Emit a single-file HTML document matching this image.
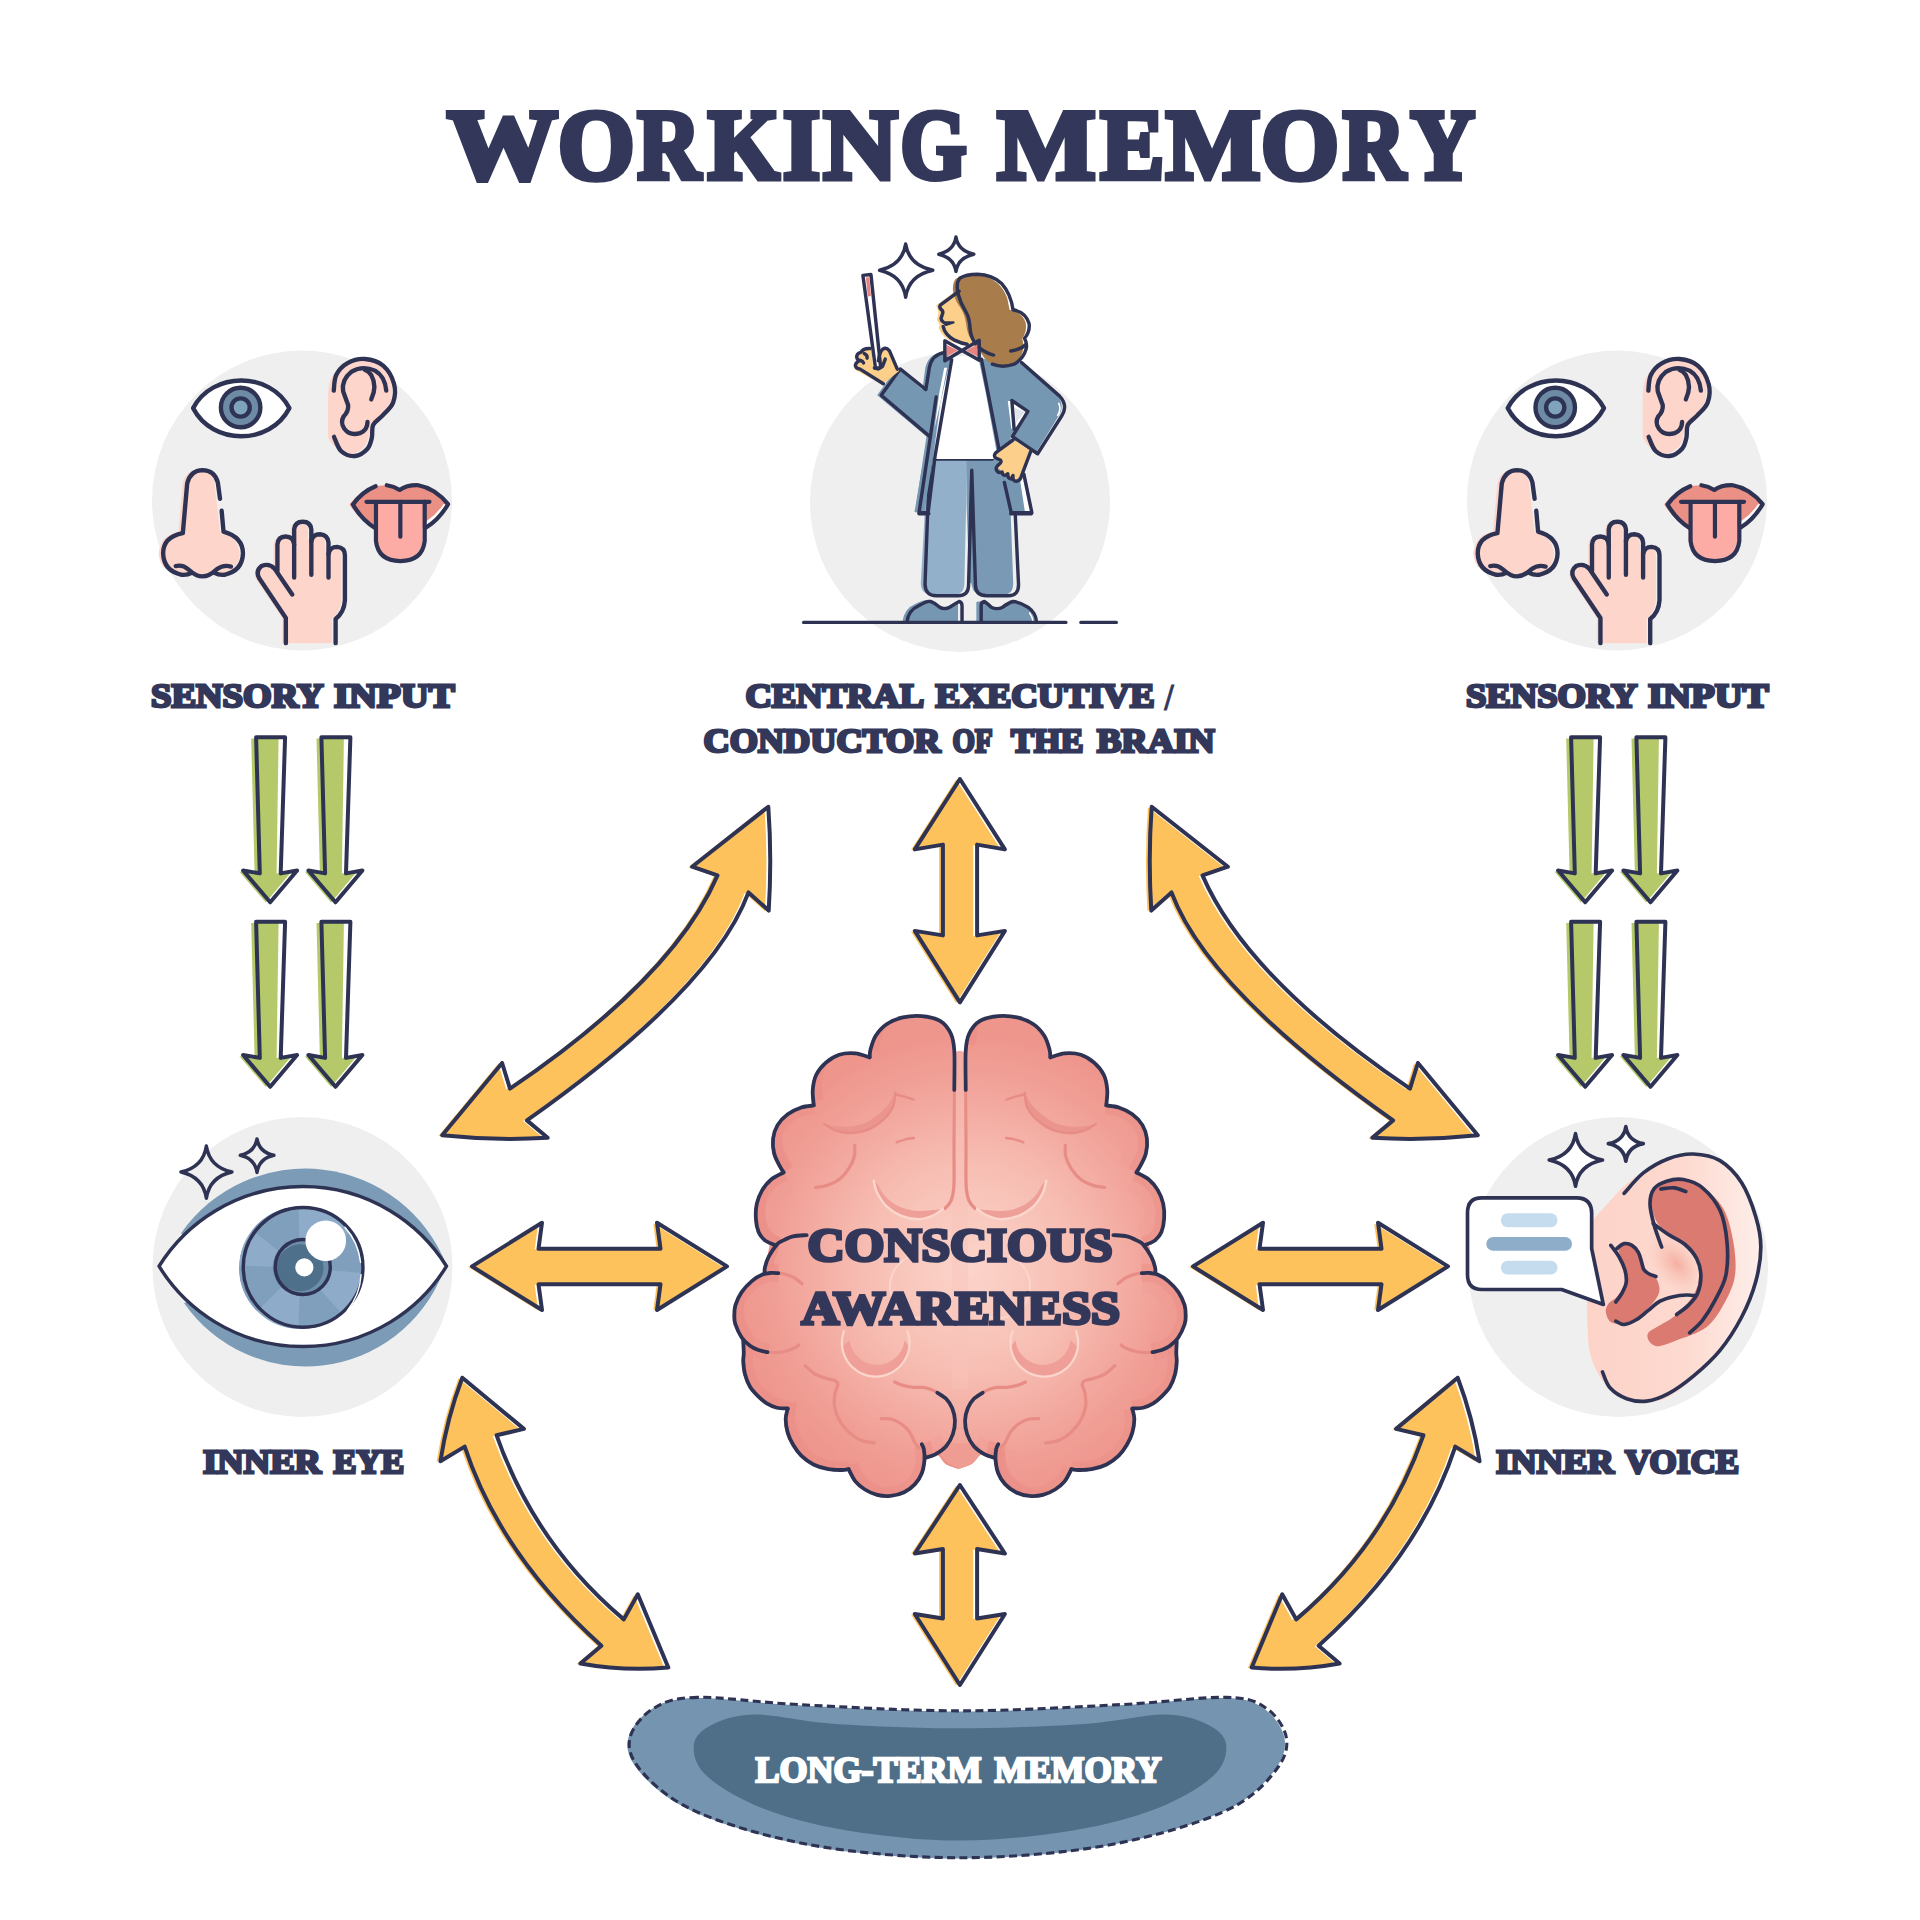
<!DOCTYPE html>
<html><head><meta charset="utf-8"><title>Working Memory</title>
<style>
html,body{margin:0;padding:0;background:#fff;}
body{width:1920px;height:1920px;overflow:hidden;font-family:"Liberation Serif",serif;}
svg{display:block}
text{font-family:"Liberation Serif",serif;font-weight:700;}
.o{fill:none;stroke:#2e3354;stroke-width:4;stroke-linecap:round;stroke-linejoin:round}
.os{fill:none;stroke:#2e3354;stroke-width:3.4;stroke-linecap:round;stroke-linejoin:round}
.or{fill:#fcc259}
.gr{fill:#b6ca6c}
</style></head><body>
<svg width="1920" height="1920" viewBox="0 0 1920 1920">
<rect width="1920" height="1920" fill="#ffffff"/>
<!-- grey circles -->
<circle cx="302" cy="500.5" r="150" fill="#efefef"/>
<circle cx="960" cy="502" r="150" fill="#efefef"/>
<circle cx="1617" cy="500.5" r="150" fill="#efefef"/>
<circle cx="302.5" cy="1267" r="150" fill="#efefef"/>
<circle cx="1618" cy="1267" r="150" fill="#efefef"/>
<g fill="#33375a" stroke="#33375a" stroke-linejoin="miter" stroke-miterlimit="3" stroke-width="6" font-size="100.3">
<text x="447.50" y="178.4" textLength="109.92" lengthAdjust="spacingAndGlyphs">W</text>
<text x="558.00" y="178.4" textLength="76.59" lengthAdjust="spacingAndGlyphs">O</text>
<text x="637.50" y="178.4" textLength="62.93" lengthAdjust="spacingAndGlyphs">R</text>
<text x="708.00" y="178.4" textLength="71.31" lengthAdjust="spacingAndGlyphs">K</text>
<text x="783.00" y="178.4" textLength="37.12" lengthAdjust="spacingAndGlyphs">I</text>
<text x="823.50" y="178.4" textLength="73.85" lengthAdjust="spacingAndGlyphs">N</text>
<text x="900.50" y="178.4" textLength="65.96" lengthAdjust="spacingAndGlyphs">G</text>
<text x="997.50" y="178.4" textLength="97.95" lengthAdjust="spacingAndGlyphs">M</text>
<text x="1100.50" y="178.4" textLength="63.74" lengthAdjust="spacingAndGlyphs">E</text>
<text x="1166.00" y="178.4" textLength="94.33" lengthAdjust="spacingAndGlyphs">M</text>
<text x="1261.00" y="178.4" textLength="77.91" lengthAdjust="spacingAndGlyphs">O</text>
<text x="1343.00" y="178.4" textLength="62.26" lengthAdjust="spacingAndGlyphs">R</text>
<text x="1410.50" y="178.4" textLength="64.28" lengthAdjust="spacingAndGlyphs">Y</text>
</g>
<path d="M472,1266.4 L542,1222.8 L538.5,1248.7 L660.5,1248.7 L657,1222.8 L727,1266.4 L657,1310 L660.5,1284.2 L538.5,1284.2 L542,1310 Z" fill="#fdc25b" transform="translate(-3.8,0.6)"/>
<path d="M472,1266.4 L542,1222.8 L538.5,1248.7 L660.5,1248.7 L657,1222.8 L727,1266.4 L657,1310 L660.5,1284.2 L538.5,1284.2 L542,1310 Z" class="o" style="stroke-width:4"/>
<path d="M472,1266.4 L542,1222.8 L538.5,1248.7 L660.5,1248.7 L657,1222.8 L727,1266.4 L657,1310 L660.5,1284.2 L538.5,1284.2 L542,1310 Z" fill="#fdc25b" transform="translate(-3.8,0.6) translate(1920,0) scale(-1,1)"/>
<path d="M472,1266.4 L542,1222.8 L538.5,1248.7 L660.5,1248.7 L657,1222.8 L727,1266.4 L657,1310 L660.5,1284.2 L538.5,1284.2 L542,1310 Z" class="o" transform="translate(1920,0) scale(-1,1)" style="stroke-width:4"/>
<path d="M959.9,779 L1004.9,849.4 L977.1,844.6 L977.1,935.4 L1004.9,930.9 L959.9,1002.4 L914.8,930.9 L942.9,935.4 L942.9,844.6 L914.8,849.4 Z" fill="#fdc25b" transform="translate(-3.8,0.6)"/>
<path d="M959.9,779 L1004.9,849.4 L977.1,844.6 L977.1,935.4 L1004.9,930.9 L959.9,1002.4 L914.8,930.9 L942.9,935.4 L942.9,844.6 L914.8,849.4 Z" class="o" style="stroke-width:4"/>
<path d="M959.9,1485 L1004.9,1553.5 L977.1,1549 L977.1,1618.5 L1004.9,1614 L959.9,1685 L914.8,1614 L942.9,1618.5 L942.9,1549 L914.8,1553.5 Z" fill="#fdc25b" transform="translate(-3.8,0.6)"/>
<path d="M959.9,1485 L1004.9,1553.5 L977.1,1549 L977.1,1618.5 L1004.9,1614 L959.9,1685 L914.8,1614 L942.9,1618.5 L942.9,1549 L914.8,1553.5 Z" class="o" style="stroke-width:4"/>
<path d="M768.3,806.7 L692.1,866.7 L717.5,875.4 Q673.2,978 510,1088.7 L502.1,1063 L442.2,1135.3 Q495,1141 547.7,1137.8 L526.9,1120.4 Q712.9,989.3 748.5,892.4 L768.7,910.6 Q772,858 768.3,806.7 Z" fill="#fdc25b" transform="translate(-3.8,0.6)"/>
<path d="M768.3,806.7 L692.1,866.7 L717.5,875.4 Q673.2,978 510,1088.7 L502.1,1063 L442.2,1135.3 Q495,1141 547.7,1137.8 L526.9,1120.4 Q712.9,989.3 748.5,892.4 L768.7,910.6 Q772,858 768.3,806.7 Z" class="o" style="stroke-width:4"/>
<path d="M768.3,806.7 L692.1,866.7 L717.5,875.4 Q673.2,978 510,1088.7 L502.1,1063 L442.2,1135.3 Q495,1141 547.7,1137.8 L526.9,1120.4 Q712.9,989.3 748.5,892.4 L768.7,910.6 Q772,858 768.3,806.7 Z" fill="#fdc25b" transform="translate(-3.8,0.6) translate(1920,0) scale(-1,1)"/>
<path d="M768.3,806.7 L692.1,866.7 L717.5,875.4 Q673.2,978 510,1088.7 L502.1,1063 L442.2,1135.3 Q495,1141 547.7,1137.8 L526.9,1120.4 Q712.9,989.3 748.5,892.4 L768.7,910.6 Q772,858 768.3,806.7 Z" class="o" transform="translate(1920,0) scale(-1,1)" style="stroke-width:4"/>
<path d="M462.3,1377.7 L523.9,1428.9 L496.6,1435.3 Q535,1544.5 623.8,1619.4 L637.8,1594.3 L668.3,1667.5 Q624,1671.5 580.4,1663.5 L601.4,1645.7 Q500.2,1554.9 464.7,1446.6 L440.4,1461.2 Q447,1418 462.3,1377.7 Z" fill="#fdc25b" transform="translate(-3.8,0.6)"/>
<path d="M462.3,1377.7 L523.9,1428.9 L496.6,1435.3 Q535,1544.5 623.8,1619.4 L637.8,1594.3 L668.3,1667.5 Q624,1671.5 580.4,1663.5 L601.4,1645.7 Q500.2,1554.9 464.7,1446.6 L440.4,1461.2 Q447,1418 462.3,1377.7 Z" class="o" style="stroke-width:4"/>
<path d="M462.3,1377.7 L523.9,1428.9 L496.6,1435.3 Q535,1544.5 623.8,1619.4 L637.8,1594.3 L668.3,1667.5 Q624,1671.5 580.4,1663.5 L601.4,1645.7 Q500.2,1554.9 464.7,1446.6 L440.4,1461.2 Q447,1418 462.3,1377.7 Z" fill="#fdc25b" transform="translate(-3.8,0.6) translate(1920,0) scale(-1,1)"/>
<path d="M462.3,1377.7 L523.9,1428.9 L496.6,1435.3 Q535,1544.5 623.8,1619.4 L637.8,1594.3 L668.3,1667.5 Q624,1671.5 580.4,1663.5 L601.4,1645.7 Q500.2,1554.9 464.7,1446.6 L440.4,1461.2 Q447,1418 462.3,1377.7 Z" class="o" transform="translate(1920,0) scale(-1,1)" style="stroke-width:4"/>
<path d="M251.2,738.6 L278.6,738.6 L276.6,873.5 L291.9,871.2 L265.8,902.6 L239.3,871.6 L254.6,874.6 Z" fill="#b5c96b"/>
<path d="M256.1,737.2 L285.1,737.2 L280.7,873.4 L297.1,870.5 L270.2,902.3 L243.1,870.5 L259.8,873.4 Z" class="o"/>
<path d="M251.2,923.1 L278.6,923.1 L276.6,1058.0 L291.9,1055.7 L265.8,1087.1 L239.3,1056.1 L254.6,1059.1 Z" fill="#b5c96b"/>
<path d="M256.1,921.7 L285.1,921.7 L280.7,1057.9 L297.1,1055.0 L270.2,1086.8 L243.1,1055.0 L259.8,1057.9 Z" class="o"/>
<path d="M316.5,738.6 L343.9,738.6 L341.9,873.5 L357.2,871.2 L331.1,902.6 L304.6,871.6 L319.9,874.6 Z" fill="#b5c96b"/>
<path d="M321.4,737.2 L350.4,737.2 L346.0,873.4 L362.4,870.5 L335.5,902.3 L308.4,870.5 L325.1,873.4 Z" class="o"/>
<path d="M316.5,923.1 L343.9,923.1 L341.9,1058.0 L357.2,1055.7 L331.1,1087.1 L304.6,1056.1 L319.9,1059.1 Z" fill="#b5c96b"/>
<path d="M321.4,921.7 L350.4,921.7 L346.0,1057.9 L362.4,1055.0 L335.5,1086.8 L308.4,1055.0 L325.1,1057.9 Z" class="o"/>
<path d="M1566.2,738.6 L1593.6,738.6 L1591.6,873.5 L1606.9,871.2 L1580.8,902.6 L1554.3,871.6 L1569.6,874.6 Z" fill="#b5c96b"/>
<path d="M1571.1,737.2 L1600.1,737.2 L1595.7,873.4 L1612.1,870.5 L1585.2,902.3 L1558.1,870.5 L1574.8,873.4 Z" class="o"/>
<path d="M1566.2,923.1 L1593.6,923.1 L1591.6,1058.0 L1606.9,1055.7 L1580.8,1087.1 L1554.3,1056.1 L1569.6,1059.1 Z" fill="#b5c96b"/>
<path d="M1571.1,921.7 L1600.1,921.7 L1595.7,1057.9 L1612.1,1055.0 L1585.2,1086.8 L1558.1,1055.0 L1574.8,1057.9 Z" class="o"/>
<path d="M1631.5,738.6 L1658.9,738.6 L1656.9,873.5 L1672.2,871.2 L1646.1,902.6 L1619.6,871.6 L1634.9,874.6 Z" fill="#b5c96b"/>
<path d="M1636.4,737.2 L1665.4,737.2 L1661.0,873.4 L1677.4,870.5 L1650.5,902.3 L1623.4,870.5 L1640.1,873.4 Z" class="o"/>
<path d="M1631.5,923.1 L1658.9,923.1 L1656.9,1058.0 L1672.2,1055.7 L1646.1,1087.1 L1619.6,1056.1 L1634.9,1059.1 Z" fill="#b5c96b"/>
<path d="M1636.4,921.7 L1665.4,921.7 L1661.0,1057.9 L1677.4,1055.0 L1650.5,1086.8 L1623.4,1055.0 L1640.1,1057.9 Z" class="o"/>
<!-- ===== Brain ===== -->
<defs>
<radialGradient id="brG" gradientUnits="userSpaceOnUse" cx="1772" cy="1950" r="1750">
<stop offset="0" stop-color="#fcd5cb"/><stop offset="0.45" stop-color="#f7bdb2"/><stop offset="0.8" stop-color="#f1a198"/><stop offset="1" stop-color="#ee958c"/>
</radialGradient>
<clipPath id="brC"><path d="M1772.4,300.0 C1765.3,300.0 1741.2,320.8 1730.0,300.0 C1718.8,279.2 1722.5,211.7 1705.0,175.0 C1687.5,138.3 1660.8,101.7 1625.0,80.0 C1589.2,58.3 1535.8,49.2 1490.0,45.0 C1444.2,40.8 1393.3,45.0 1350.0,55.0 C1306.7,65.0 1263.3,82.5 1230.0,105.0 C1196.7,127.5 1169.7,159.2 1150.0,190.0 C1130.3,220.8 1119.5,263.3 1112.0,290.0 C1104.5,316.7 1106.2,340.0 1105.0,350.0 L1105.0,350.0 C1087.5,345.0 1037.5,323.3 1000.0,320.0 C962.5,316.7 916.7,318.3 880.0,330.0 C843.3,341.7 808.3,365.0 780.0,390.0 C751.7,415.0 725.8,446.7 710.0,480.0 C694.2,513.3 688.0,553.3 685.0,590.0 C682.0,626.7 690.8,681.7 692.0,700.0 L692.0,705.0 C676.7,707.5 632.0,709.2 600.0,720.0 C568.0,730.8 529.2,748.3 500.0,770.0 C470.8,791.7 443.0,820.0 425.0,850.0 C407.0,880.0 396.2,915.0 392.0,950.0 C387.8,985.0 392.0,1026.7 400.0,1060.0 C408.0,1093.3 428.3,1126.7 440.0,1150.0 C451.7,1173.3 465.0,1191.7 470.0,1200.0 L468.0,1200.0 C453.3,1208.3 406.0,1228.3 380.0,1250.0 C354.0,1271.7 330.0,1300.0 312.0,1330.0 C294.0,1360.0 279.8,1395.0 272.0,1430.0 C264.2,1465.0 262.8,1505.0 265.0,1540.0 C267.2,1575.0 274.2,1613.3 285.0,1640.0 C295.8,1666.7 314.2,1685.8 330.0,1700.0 C345.8,1714.2 371.7,1720.8 380.0,1725.0 L360.0,1822.0 C355.4,1834.8 337.4,1878.8 332.3,1898.7 C327.2,1918.6 329.9,1934.4 329.4,1941.6 L375.0,1941.6 C364.8,1943.7 337.0,1944.3 314.0,1954.0 C291.0,1963.7 262.7,1978.5 237.0,2000.0 C211.3,2021.5 180.5,2053.2 160.0,2083.0 C139.5,2112.8 123.0,2149.5 114.0,2179.0 C105.0,2208.5 106.0,2236.4 106.0,2260.0 C106.0,2283.6 104.7,2294.1 113.7,2320.6 C122.8,2347.1 152.5,2402.4 160.3,2418.8 L172.0,2443.0 C172.6,2458.3 175.4,2509.3 175.4,2535.0 C175.4,2560.7 170.5,2571.2 172.0,2597.0 C173.5,2622.8 176.3,2659.2 184.6,2690.0 C192.9,2720.8 205.2,2754.8 221.6,2782.0 C238.0,2809.2 262.2,2832.5 282.8,2853.0 C303.4,2873.5 322.1,2891.0 345.0,2905.0 C367.9,2919.0 394.2,2930.7 420.0,2937.0 C445.8,2943.3 486.7,2942.0 500.0,2943.0 L500.0,2943.0 C497.5,2956.0 485.0,2991.3 485.0,3021.0 C485.0,3050.7 490.8,3089.3 500.0,3121.0 C509.2,3152.7 523.3,3182.7 540.0,3211.0 C556.7,3239.3 575.0,3266.8 600.0,3291.0 C625.0,3315.2 656.7,3339.3 690.0,3356.0 C723.3,3372.7 765.0,3384.2 800.0,3391.0 C835.0,3397.8 875.0,3397.0 900.0,3397.0 C925.0,3397.0 941.7,3392.0 950.0,3391.0 L950.0,3391.0 C958.3,3406.0 980.0,3456.0 1000.0,3481.0 C1020.0,3506.0 1043.3,3524.3 1070.0,3541.0 C1096.7,3557.7 1128.3,3573.2 1160.0,3581.0 C1191.7,3588.8 1226.7,3591.3 1260.0,3588.0 C1293.3,3584.7 1330.0,3575.5 1360.0,3561.0 C1390.0,3546.5 1418.3,3524.3 1440.0,3501.0 C1461.7,3477.7 1478.3,3451.0 1490.0,3421.0 C1501.7,3391.0 1506.7,3337.7 1510.0,3321.0 L1515.0,3300.0 C1527.5,3296.8 1570.8,3282.5 1590.0,3281.0 C1609.2,3279.5 1615.0,3279.5 1630.0,3291.0 C1645.0,3302.5 1656.3,3334.3 1680.0,3350.0 C1703.7,3365.7 1757.0,3379.2 1772.4,3385.0 L1772.4,3385.0 C1787.8,3379.2 1841.1,3365.7 1864.8,3350.0 C1888.5,3334.3 1899.8,3302.5 1914.8,3291.0 C1929.8,3279.5 1935.6,3279.5 1954.8,3281.0 C1974.0,3282.5 2017.3,3296.8 2029.8,3300.0 L2034.8,3321.0 C2038.1,3337.7 2043.1,3391.0 2054.8,3421.0 C2066.5,3451.0 2083.1,3477.7 2104.8,3501.0 C2126.5,3524.3 2154.8,3546.5 2184.8,3561.0 C2214.8,3575.5 2251.5,3584.7 2284.8,3588.0 C2318.1,3591.3 2353.1,3588.8 2384.8,3581.0 C2416.5,3573.2 2448.1,3557.7 2474.8,3541.0 C2501.5,3524.3 2524.8,3506.0 2544.8,3481.0 C2564.8,3456.0 2586.5,3406.0 2594.8,3391.0 L2594.8,3391.0 C2603.1,3392.0 2619.8,3397.0 2644.8,3397.0 C2669.8,3397.0 2709.8,3397.8 2744.8,3391.0 C2779.8,3384.2 2821.5,3372.7 2854.8,3356.0 C2888.1,3339.3 2919.8,3315.2 2944.8,3291.0 C2969.8,3266.8 2988.1,3239.3 3004.8,3211.0 C3021.5,3182.7 3035.6,3152.7 3044.8,3121.0 C3054.0,3089.3 3059.8,3050.7 3059.8,3021.0 C3059.8,2991.3 3047.3,2956.0 3044.8,2943.0 L3044.8,2943.0 C3058.1,2942.0 3099.0,2943.3 3124.8,2937.0 C3150.6,2930.7 3176.9,2919.0 3199.8,2905.0 C3222.7,2891.0 3241.4,2873.5 3262.0,2853.0 C3282.6,2832.5 3306.8,2809.2 3323.2,2782.0 C3339.6,2754.8 3351.9,2720.8 3360.2,2690.0 C3368.5,2659.2 3371.3,2622.8 3372.8,2597.0 C3374.3,2571.2 3369.4,2560.7 3369.4,2535.0 C3369.4,2509.3 3372.2,2458.3 3372.8,2443.0 L3384.5,2418.8 C3392.3,2402.4 3422.1,2347.1 3431.1,2320.6 C3440.2,2294.1 3438.9,2283.6 3438.8,2260.0 C3438.8,2236.4 3439.8,2208.5 3430.8,2179.0 C3421.8,2149.5 3405.3,2112.8 3384.8,2083.0 C3364.3,2053.2 3333.5,2021.5 3307.8,2000.0 C3282.1,1978.5 3253.8,1963.7 3230.8,1954.0 C3207.8,1944.3 3180.0,1943.7 3169.8,1941.6 L3215.4,1941.6 C3214.9,1934.4 3217.6,1918.6 3212.5,1898.7 C3207.4,1878.8 3189.4,1834.8 3184.8,1822.0 L3164.8,1725.0 C3173.1,1720.8 3199.0,1714.2 3214.8,1700.0 C3230.6,1685.8 3249.0,1666.7 3259.8,1640.0 C3270.6,1613.3 3277.6,1575.0 3279.8,1540.0 C3282.0,1505.0 3280.6,1465.0 3272.8,1430.0 C3265.0,1395.0 3250.8,1360.0 3232.8,1330.0 C3214.8,1300.0 3190.8,1271.7 3164.8,1250.0 C3138.8,1228.3 3091.5,1208.3 3076.8,1200.0 L3074.8,1200.0 C3079.8,1191.7 3093.1,1173.3 3104.8,1150.0 C3116.5,1126.7 3136.8,1093.3 3144.8,1060.0 C3152.8,1026.7 3157.0,985.0 3152.8,950.0 C3148.6,915.0 3137.8,880.0 3119.8,850.0 C3101.8,820.0 3074.0,791.7 3044.8,770.0 C3015.6,748.3 2976.8,730.8 2944.8,720.0 C2912.8,709.2 2868.1,707.5 2852.8,705.0 L2852.8,700.0 C2854.0,681.7 2862.8,626.7 2859.8,590.0 C2856.8,553.3 2850.6,513.3 2834.8,480.0 C2819.0,446.7 2793.1,415.0 2764.8,390.0 C2736.5,365.0 2701.5,341.7 2664.8,330.0 C2628.1,318.3 2582.3,316.7 2544.8,320.0 C2507.3,323.3 2457.3,345.0 2439.8,350.0 L2439.8,350.0 C2438.6,340.0 2440.3,316.7 2432.8,290.0 C2425.3,263.3 2414.5,220.8 2394.8,190.0 C2375.1,159.2 2348.1,127.5 2314.8,105.0 C2281.5,82.5 2238.1,65.0 2194.8,55.0 C2151.5,45.0 2100.6,40.8 2054.8,45.0 C2009.0,49.2 1955.6,58.3 1919.8,80.0 C1884.0,101.7 1857.3,138.3 1839.8,175.0 C1822.3,211.7 1826.0,279.2 1814.8,300.0 C1803.6,320.8 1779.5,300.0 1772.4,300.0 Z"/></clipPath>
</defs>
<g transform="translate(720,1010) scale(0.1354167)" stroke-linecap="round" stroke-linejoin="round">
<path d="M1772.4,300.0 C1765.3,300.0 1741.2,320.8 1730.0,300.0 C1718.8,279.2 1722.5,211.7 1705.0,175.0 C1687.5,138.3 1660.8,101.7 1625.0,80.0 C1589.2,58.3 1535.8,49.2 1490.0,45.0 C1444.2,40.8 1393.3,45.0 1350.0,55.0 C1306.7,65.0 1263.3,82.5 1230.0,105.0 C1196.7,127.5 1169.7,159.2 1150.0,190.0 C1130.3,220.8 1119.5,263.3 1112.0,290.0 C1104.5,316.7 1106.2,340.0 1105.0,350.0 L1105.0,350.0 C1087.5,345.0 1037.5,323.3 1000.0,320.0 C962.5,316.7 916.7,318.3 880.0,330.0 C843.3,341.7 808.3,365.0 780.0,390.0 C751.7,415.0 725.8,446.7 710.0,480.0 C694.2,513.3 688.0,553.3 685.0,590.0 C682.0,626.7 690.8,681.7 692.0,700.0 L692.0,705.0 C676.7,707.5 632.0,709.2 600.0,720.0 C568.0,730.8 529.2,748.3 500.0,770.0 C470.8,791.7 443.0,820.0 425.0,850.0 C407.0,880.0 396.2,915.0 392.0,950.0 C387.8,985.0 392.0,1026.7 400.0,1060.0 C408.0,1093.3 428.3,1126.7 440.0,1150.0 C451.7,1173.3 465.0,1191.7 470.0,1200.0 L468.0,1200.0 C453.3,1208.3 406.0,1228.3 380.0,1250.0 C354.0,1271.7 330.0,1300.0 312.0,1330.0 C294.0,1360.0 279.8,1395.0 272.0,1430.0 C264.2,1465.0 262.8,1505.0 265.0,1540.0 C267.2,1575.0 274.2,1613.3 285.0,1640.0 C295.8,1666.7 314.2,1685.8 330.0,1700.0 C345.8,1714.2 371.7,1720.8 380.0,1725.0 L360.0,1822.0 C355.4,1834.8 337.4,1878.8 332.3,1898.7 C327.2,1918.6 329.9,1934.4 329.4,1941.6 L375.0,1941.6 C364.8,1943.7 337.0,1944.3 314.0,1954.0 C291.0,1963.7 262.7,1978.5 237.0,2000.0 C211.3,2021.5 180.5,2053.2 160.0,2083.0 C139.5,2112.8 123.0,2149.5 114.0,2179.0 C105.0,2208.5 106.0,2236.4 106.0,2260.0 C106.0,2283.6 104.7,2294.1 113.7,2320.6 C122.8,2347.1 152.5,2402.4 160.3,2418.8 L172.0,2443.0 C172.6,2458.3 175.4,2509.3 175.4,2535.0 C175.4,2560.7 170.5,2571.2 172.0,2597.0 C173.5,2622.8 176.3,2659.2 184.6,2690.0 C192.9,2720.8 205.2,2754.8 221.6,2782.0 C238.0,2809.2 262.2,2832.5 282.8,2853.0 C303.4,2873.5 322.1,2891.0 345.0,2905.0 C367.9,2919.0 394.2,2930.7 420.0,2937.0 C445.8,2943.3 486.7,2942.0 500.0,2943.0 L500.0,2943.0 C497.5,2956.0 485.0,2991.3 485.0,3021.0 C485.0,3050.7 490.8,3089.3 500.0,3121.0 C509.2,3152.7 523.3,3182.7 540.0,3211.0 C556.7,3239.3 575.0,3266.8 600.0,3291.0 C625.0,3315.2 656.7,3339.3 690.0,3356.0 C723.3,3372.7 765.0,3384.2 800.0,3391.0 C835.0,3397.8 875.0,3397.0 900.0,3397.0 C925.0,3397.0 941.7,3392.0 950.0,3391.0 L950.0,3391.0 C958.3,3406.0 980.0,3456.0 1000.0,3481.0 C1020.0,3506.0 1043.3,3524.3 1070.0,3541.0 C1096.7,3557.7 1128.3,3573.2 1160.0,3581.0 C1191.7,3588.8 1226.7,3591.3 1260.0,3588.0 C1293.3,3584.7 1330.0,3575.5 1360.0,3561.0 C1390.0,3546.5 1418.3,3524.3 1440.0,3501.0 C1461.7,3477.7 1478.3,3451.0 1490.0,3421.0 C1501.7,3391.0 1506.7,3337.7 1510.0,3321.0 L1515.0,3300.0 C1527.5,3296.8 1570.8,3282.5 1590.0,3281.0 C1609.2,3279.5 1615.0,3279.5 1630.0,3291.0 C1645.0,3302.5 1656.3,3334.3 1680.0,3350.0 C1703.7,3365.7 1757.0,3379.2 1772.4,3385.0 L1772.4,3385.0 C1787.8,3379.2 1841.1,3365.7 1864.8,3350.0 C1888.5,3334.3 1899.8,3302.5 1914.8,3291.0 C1929.8,3279.5 1935.6,3279.5 1954.8,3281.0 C1974.0,3282.5 2017.3,3296.8 2029.8,3300.0 L2034.8,3321.0 C2038.1,3337.7 2043.1,3391.0 2054.8,3421.0 C2066.5,3451.0 2083.1,3477.7 2104.8,3501.0 C2126.5,3524.3 2154.8,3546.5 2184.8,3561.0 C2214.8,3575.5 2251.5,3584.7 2284.8,3588.0 C2318.1,3591.3 2353.1,3588.8 2384.8,3581.0 C2416.5,3573.2 2448.1,3557.7 2474.8,3541.0 C2501.5,3524.3 2524.8,3506.0 2544.8,3481.0 C2564.8,3456.0 2586.5,3406.0 2594.8,3391.0 L2594.8,3391.0 C2603.1,3392.0 2619.8,3397.0 2644.8,3397.0 C2669.8,3397.0 2709.8,3397.8 2744.8,3391.0 C2779.8,3384.2 2821.5,3372.7 2854.8,3356.0 C2888.1,3339.3 2919.8,3315.2 2944.8,3291.0 C2969.8,3266.8 2988.1,3239.3 3004.8,3211.0 C3021.5,3182.7 3035.6,3152.7 3044.8,3121.0 C3054.0,3089.3 3059.8,3050.7 3059.8,3021.0 C3059.8,2991.3 3047.3,2956.0 3044.8,2943.0 L3044.8,2943.0 C3058.1,2942.0 3099.0,2943.3 3124.8,2937.0 C3150.6,2930.7 3176.9,2919.0 3199.8,2905.0 C3222.7,2891.0 3241.4,2873.5 3262.0,2853.0 C3282.6,2832.5 3306.8,2809.2 3323.2,2782.0 C3339.6,2754.8 3351.9,2720.8 3360.2,2690.0 C3368.5,2659.2 3371.3,2622.8 3372.8,2597.0 C3374.3,2571.2 3369.4,2560.7 3369.4,2535.0 C3369.4,2509.3 3372.2,2458.3 3372.8,2443.0 L3384.5,2418.8 C3392.3,2402.4 3422.1,2347.1 3431.1,2320.6 C3440.2,2294.1 3438.9,2283.6 3438.8,2260.0 C3438.8,2236.4 3439.8,2208.5 3430.8,2179.0 C3421.8,2149.5 3405.3,2112.8 3384.8,2083.0 C3364.3,2053.2 3333.5,2021.5 3307.8,2000.0 C3282.1,1978.5 3253.8,1963.7 3230.8,1954.0 C3207.8,1944.3 3180.0,1943.7 3169.8,1941.6 L3215.4,1941.6 C3214.9,1934.4 3217.6,1918.6 3212.5,1898.7 C3207.4,1878.8 3189.4,1834.8 3184.8,1822.0 L3164.8,1725.0 C3173.1,1720.8 3199.0,1714.2 3214.8,1700.0 C3230.6,1685.8 3249.0,1666.7 3259.8,1640.0 C3270.6,1613.3 3277.6,1575.0 3279.8,1540.0 C3282.0,1505.0 3280.6,1465.0 3272.8,1430.0 C3265.0,1395.0 3250.8,1360.0 3232.8,1330.0 C3214.8,1300.0 3190.8,1271.7 3164.8,1250.0 C3138.8,1228.3 3091.5,1208.3 3076.8,1200.0 L3074.8,1200.0 C3079.8,1191.7 3093.1,1173.3 3104.8,1150.0 C3116.5,1126.7 3136.8,1093.3 3144.8,1060.0 C3152.8,1026.7 3157.0,985.0 3152.8,950.0 C3148.6,915.0 3137.8,880.0 3119.8,850.0 C3101.8,820.0 3074.0,791.7 3044.8,770.0 C3015.6,748.3 2976.8,730.8 2944.8,720.0 C2912.8,709.2 2868.1,707.5 2852.8,705.0 L2852.8,700.0 C2854.0,681.7 2862.8,626.7 2859.8,590.0 C2856.8,553.3 2850.6,513.3 2834.8,480.0 C2819.0,446.7 2793.1,415.0 2764.8,390.0 C2736.5,365.0 2701.5,341.7 2664.8,330.0 C2628.1,318.3 2582.3,316.7 2544.8,320.0 C2507.3,323.3 2457.3,345.0 2439.8,350.0 L2439.8,350.0 C2438.6,340.0 2440.3,316.7 2432.8,290.0 C2425.3,263.3 2414.5,220.8 2394.8,190.0 C2375.1,159.2 2348.1,127.5 2314.8,105.0 C2281.5,82.5 2238.1,65.0 2194.8,55.0 C2151.5,45.0 2100.6,40.8 2054.8,45.0 C2009.0,49.2 1955.6,58.3 1919.8,80.0 C1884.0,101.7 1857.3,138.3 1839.8,175.0 C1822.3,211.7 1826.0,279.2 1814.8,300.0 C1803.6,320.8 1779.5,300.0 1772.4,300.0 Z" fill="#ec9088" transform="translate(-12,4)"/>
<g clip-path="url(#brC)"><path d="M1772.4,300.0 C1765.3,300.0 1741.2,320.8 1730.0,300.0 C1718.8,279.2 1722.5,211.7 1705.0,175.0 C1687.5,138.3 1660.8,101.7 1625.0,80.0 C1589.2,58.3 1535.8,49.2 1490.0,45.0 C1444.2,40.8 1393.3,45.0 1350.0,55.0 C1306.7,65.0 1263.3,82.5 1230.0,105.0 C1196.7,127.5 1169.7,159.2 1150.0,190.0 C1130.3,220.8 1119.5,263.3 1112.0,290.0 C1104.5,316.7 1106.2,340.0 1105.0,350.0 L1105.0,350.0 C1087.5,345.0 1037.5,323.3 1000.0,320.0 C962.5,316.7 916.7,318.3 880.0,330.0 C843.3,341.7 808.3,365.0 780.0,390.0 C751.7,415.0 725.8,446.7 710.0,480.0 C694.2,513.3 688.0,553.3 685.0,590.0 C682.0,626.7 690.8,681.7 692.0,700.0 L692.0,705.0 C676.7,707.5 632.0,709.2 600.0,720.0 C568.0,730.8 529.2,748.3 500.0,770.0 C470.8,791.7 443.0,820.0 425.0,850.0 C407.0,880.0 396.2,915.0 392.0,950.0 C387.8,985.0 392.0,1026.7 400.0,1060.0 C408.0,1093.3 428.3,1126.7 440.0,1150.0 C451.7,1173.3 465.0,1191.7 470.0,1200.0 L468.0,1200.0 C453.3,1208.3 406.0,1228.3 380.0,1250.0 C354.0,1271.7 330.0,1300.0 312.0,1330.0 C294.0,1360.0 279.8,1395.0 272.0,1430.0 C264.2,1465.0 262.8,1505.0 265.0,1540.0 C267.2,1575.0 274.2,1613.3 285.0,1640.0 C295.8,1666.7 314.2,1685.8 330.0,1700.0 C345.8,1714.2 371.7,1720.8 380.0,1725.0 L360.0,1822.0 C355.4,1834.8 337.4,1878.8 332.3,1898.7 C327.2,1918.6 329.9,1934.4 329.4,1941.6 L375.0,1941.6 C364.8,1943.7 337.0,1944.3 314.0,1954.0 C291.0,1963.7 262.7,1978.5 237.0,2000.0 C211.3,2021.5 180.5,2053.2 160.0,2083.0 C139.5,2112.8 123.0,2149.5 114.0,2179.0 C105.0,2208.5 106.0,2236.4 106.0,2260.0 C106.0,2283.6 104.7,2294.1 113.7,2320.6 C122.8,2347.1 152.5,2402.4 160.3,2418.8 L172.0,2443.0 C172.6,2458.3 175.4,2509.3 175.4,2535.0 C175.4,2560.7 170.5,2571.2 172.0,2597.0 C173.5,2622.8 176.3,2659.2 184.6,2690.0 C192.9,2720.8 205.2,2754.8 221.6,2782.0 C238.0,2809.2 262.2,2832.5 282.8,2853.0 C303.4,2873.5 322.1,2891.0 345.0,2905.0 C367.9,2919.0 394.2,2930.7 420.0,2937.0 C445.8,2943.3 486.7,2942.0 500.0,2943.0 L500.0,2943.0 C497.5,2956.0 485.0,2991.3 485.0,3021.0 C485.0,3050.7 490.8,3089.3 500.0,3121.0 C509.2,3152.7 523.3,3182.7 540.0,3211.0 C556.7,3239.3 575.0,3266.8 600.0,3291.0 C625.0,3315.2 656.7,3339.3 690.0,3356.0 C723.3,3372.7 765.0,3384.2 800.0,3391.0 C835.0,3397.8 875.0,3397.0 900.0,3397.0 C925.0,3397.0 941.7,3392.0 950.0,3391.0 L950.0,3391.0 C958.3,3406.0 980.0,3456.0 1000.0,3481.0 C1020.0,3506.0 1043.3,3524.3 1070.0,3541.0 C1096.7,3557.7 1128.3,3573.2 1160.0,3581.0 C1191.7,3588.8 1226.7,3591.3 1260.0,3588.0 C1293.3,3584.7 1330.0,3575.5 1360.0,3561.0 C1390.0,3546.5 1418.3,3524.3 1440.0,3501.0 C1461.7,3477.7 1478.3,3451.0 1490.0,3421.0 C1501.7,3391.0 1506.7,3337.7 1510.0,3321.0 L1515.0,3300.0 C1527.5,3296.8 1570.8,3282.5 1590.0,3281.0 C1609.2,3279.5 1615.0,3279.5 1630.0,3291.0 C1645.0,3302.5 1656.3,3334.3 1680.0,3350.0 C1703.7,3365.7 1757.0,3379.2 1772.4,3385.0 L1772.4,3385.0 C1787.8,3379.2 1841.1,3365.7 1864.8,3350.0 C1888.5,3334.3 1899.8,3302.5 1914.8,3291.0 C1929.8,3279.5 1935.6,3279.5 1954.8,3281.0 C1974.0,3282.5 2017.3,3296.8 2029.8,3300.0 L2034.8,3321.0 C2038.1,3337.7 2043.1,3391.0 2054.8,3421.0 C2066.5,3451.0 2083.1,3477.7 2104.8,3501.0 C2126.5,3524.3 2154.8,3546.5 2184.8,3561.0 C2214.8,3575.5 2251.5,3584.7 2284.8,3588.0 C2318.1,3591.3 2353.1,3588.8 2384.8,3581.0 C2416.5,3573.2 2448.1,3557.7 2474.8,3541.0 C2501.5,3524.3 2524.8,3506.0 2544.8,3481.0 C2564.8,3456.0 2586.5,3406.0 2594.8,3391.0 L2594.8,3391.0 C2603.1,3392.0 2619.8,3397.0 2644.8,3397.0 C2669.8,3397.0 2709.8,3397.8 2744.8,3391.0 C2779.8,3384.2 2821.5,3372.7 2854.8,3356.0 C2888.1,3339.3 2919.8,3315.2 2944.8,3291.0 C2969.8,3266.8 2988.1,3239.3 3004.8,3211.0 C3021.5,3182.7 3035.6,3152.7 3044.8,3121.0 C3054.0,3089.3 3059.8,3050.7 3059.8,3021.0 C3059.8,2991.3 3047.3,2956.0 3044.8,2943.0 L3044.8,2943.0 C3058.1,2942.0 3099.0,2943.3 3124.8,2937.0 C3150.6,2930.7 3176.9,2919.0 3199.8,2905.0 C3222.7,2891.0 3241.4,2873.5 3262.0,2853.0 C3282.6,2832.5 3306.8,2809.2 3323.2,2782.0 C3339.6,2754.8 3351.9,2720.8 3360.2,2690.0 C3368.5,2659.2 3371.3,2622.8 3372.8,2597.0 C3374.3,2571.2 3369.4,2560.7 3369.4,2535.0 C3369.4,2509.3 3372.2,2458.3 3372.8,2443.0 L3384.5,2418.8 C3392.3,2402.4 3422.1,2347.1 3431.1,2320.6 C3440.2,2294.1 3438.9,2283.6 3438.8,2260.0 C3438.8,2236.4 3439.8,2208.5 3430.8,2179.0 C3421.8,2149.5 3405.3,2112.8 3384.8,2083.0 C3364.3,2053.2 3333.5,2021.5 3307.8,2000.0 C3282.1,1978.5 3253.8,1963.7 3230.8,1954.0 C3207.8,1944.3 3180.0,1943.7 3169.8,1941.6 L3215.4,1941.6 C3214.9,1934.4 3217.6,1918.6 3212.5,1898.7 C3207.4,1878.8 3189.4,1834.8 3184.8,1822.0 L3164.8,1725.0 C3173.1,1720.8 3199.0,1714.2 3214.8,1700.0 C3230.6,1685.8 3249.0,1666.7 3259.8,1640.0 C3270.6,1613.3 3277.6,1575.0 3279.8,1540.0 C3282.0,1505.0 3280.6,1465.0 3272.8,1430.0 C3265.0,1395.0 3250.8,1360.0 3232.8,1330.0 C3214.8,1300.0 3190.8,1271.7 3164.8,1250.0 C3138.8,1228.3 3091.5,1208.3 3076.8,1200.0 L3074.8,1200.0 C3079.8,1191.7 3093.1,1173.3 3104.8,1150.0 C3116.5,1126.7 3136.8,1093.3 3144.8,1060.0 C3152.8,1026.7 3157.0,985.0 3152.8,950.0 C3148.6,915.0 3137.8,880.0 3119.8,850.0 C3101.8,820.0 3074.0,791.7 3044.8,770.0 C3015.6,748.3 2976.8,730.8 2944.8,720.0 C2912.8,709.2 2868.1,707.5 2852.8,705.0 L2852.8,700.0 C2854.0,681.7 2862.8,626.7 2859.8,590.0 C2856.8,553.3 2850.6,513.3 2834.8,480.0 C2819.0,446.7 2793.1,415.0 2764.8,390.0 C2736.5,365.0 2701.5,341.7 2664.8,330.0 C2628.1,318.3 2582.3,316.7 2544.8,320.0 C2507.3,323.3 2457.3,345.0 2439.8,350.0 L2439.8,350.0 C2438.6,340.0 2440.3,316.7 2432.8,290.0 C2425.3,263.3 2414.5,220.8 2394.8,190.0 C2375.1,159.2 2348.1,127.5 2314.8,105.0 C2281.5,82.5 2238.1,65.0 2194.8,55.0 C2151.5,45.0 2100.6,40.8 2054.8,45.0 C2009.0,49.2 1955.6,58.3 1919.8,80.0 C1884.0,101.7 1857.3,138.3 1839.8,175.0 C1822.3,211.7 1826.0,279.2 1814.8,300.0 C1803.6,320.8 1779.5,300.0 1772.4,300.0 Z" fill="#ec9088"/><path d="M1772.4,300.0 C1765.3,300.0 1741.2,320.8 1730.0,300.0 C1718.8,279.2 1722.5,211.7 1705.0,175.0 C1687.5,138.3 1660.8,101.7 1625.0,80.0 C1589.2,58.3 1535.8,49.2 1490.0,45.0 C1444.2,40.8 1393.3,45.0 1350.0,55.0 C1306.7,65.0 1263.3,82.5 1230.0,105.0 C1196.7,127.5 1169.7,159.2 1150.0,190.0 C1130.3,220.8 1119.5,263.3 1112.0,290.0 C1104.5,316.7 1106.2,340.0 1105.0,350.0 L1105.0,350.0 C1087.5,345.0 1037.5,323.3 1000.0,320.0 C962.5,316.7 916.7,318.3 880.0,330.0 C843.3,341.7 808.3,365.0 780.0,390.0 C751.7,415.0 725.8,446.7 710.0,480.0 C694.2,513.3 688.0,553.3 685.0,590.0 C682.0,626.7 690.8,681.7 692.0,700.0 L692.0,705.0 C676.7,707.5 632.0,709.2 600.0,720.0 C568.0,730.8 529.2,748.3 500.0,770.0 C470.8,791.7 443.0,820.0 425.0,850.0 C407.0,880.0 396.2,915.0 392.0,950.0 C387.8,985.0 392.0,1026.7 400.0,1060.0 C408.0,1093.3 428.3,1126.7 440.0,1150.0 C451.7,1173.3 465.0,1191.7 470.0,1200.0 L468.0,1200.0 C453.3,1208.3 406.0,1228.3 380.0,1250.0 C354.0,1271.7 330.0,1300.0 312.0,1330.0 C294.0,1360.0 279.8,1395.0 272.0,1430.0 C264.2,1465.0 262.8,1505.0 265.0,1540.0 C267.2,1575.0 274.2,1613.3 285.0,1640.0 C295.8,1666.7 314.2,1685.8 330.0,1700.0 C345.8,1714.2 371.7,1720.8 380.0,1725.0 L360.0,1822.0 C355.4,1834.8 337.4,1878.8 332.3,1898.7 C327.2,1918.6 329.9,1934.4 329.4,1941.6 L375.0,1941.6 C364.8,1943.7 337.0,1944.3 314.0,1954.0 C291.0,1963.7 262.7,1978.5 237.0,2000.0 C211.3,2021.5 180.5,2053.2 160.0,2083.0 C139.5,2112.8 123.0,2149.5 114.0,2179.0 C105.0,2208.5 106.0,2236.4 106.0,2260.0 C106.0,2283.6 104.7,2294.1 113.7,2320.6 C122.8,2347.1 152.5,2402.4 160.3,2418.8 L172.0,2443.0 C172.6,2458.3 175.4,2509.3 175.4,2535.0 C175.4,2560.7 170.5,2571.2 172.0,2597.0 C173.5,2622.8 176.3,2659.2 184.6,2690.0 C192.9,2720.8 205.2,2754.8 221.6,2782.0 C238.0,2809.2 262.2,2832.5 282.8,2853.0 C303.4,2873.5 322.1,2891.0 345.0,2905.0 C367.9,2919.0 394.2,2930.7 420.0,2937.0 C445.8,2943.3 486.7,2942.0 500.0,2943.0 L500.0,2943.0 C497.5,2956.0 485.0,2991.3 485.0,3021.0 C485.0,3050.7 490.8,3089.3 500.0,3121.0 C509.2,3152.7 523.3,3182.7 540.0,3211.0 C556.7,3239.3 575.0,3266.8 600.0,3291.0 C625.0,3315.2 656.7,3339.3 690.0,3356.0 C723.3,3372.7 765.0,3384.2 800.0,3391.0 C835.0,3397.8 875.0,3397.0 900.0,3397.0 C925.0,3397.0 941.7,3392.0 950.0,3391.0 L950.0,3391.0 C958.3,3406.0 980.0,3456.0 1000.0,3481.0 C1020.0,3506.0 1043.3,3524.3 1070.0,3541.0 C1096.7,3557.7 1128.3,3573.2 1160.0,3581.0 C1191.7,3588.8 1226.7,3591.3 1260.0,3588.0 C1293.3,3584.7 1330.0,3575.5 1360.0,3561.0 C1390.0,3546.5 1418.3,3524.3 1440.0,3501.0 C1461.7,3477.7 1478.3,3451.0 1490.0,3421.0 C1501.7,3391.0 1506.7,3337.7 1510.0,3321.0 L1515.0,3300.0 C1527.5,3296.8 1570.8,3282.5 1590.0,3281.0 C1609.2,3279.5 1615.0,3279.5 1630.0,3291.0 C1645.0,3302.5 1656.3,3334.3 1680.0,3350.0 C1703.7,3365.7 1757.0,3379.2 1772.4,3385.0 L1772.4,3385.0 C1787.8,3379.2 1841.1,3365.7 1864.8,3350.0 C1888.5,3334.3 1899.8,3302.5 1914.8,3291.0 C1929.8,3279.5 1935.6,3279.5 1954.8,3281.0 C1974.0,3282.5 2017.3,3296.8 2029.8,3300.0 L2034.8,3321.0 C2038.1,3337.7 2043.1,3391.0 2054.8,3421.0 C2066.5,3451.0 2083.1,3477.7 2104.8,3501.0 C2126.5,3524.3 2154.8,3546.5 2184.8,3561.0 C2214.8,3575.5 2251.5,3584.7 2284.8,3588.0 C2318.1,3591.3 2353.1,3588.8 2384.8,3581.0 C2416.5,3573.2 2448.1,3557.7 2474.8,3541.0 C2501.5,3524.3 2524.8,3506.0 2544.8,3481.0 C2564.8,3456.0 2586.5,3406.0 2594.8,3391.0 L2594.8,3391.0 C2603.1,3392.0 2619.8,3397.0 2644.8,3397.0 C2669.8,3397.0 2709.8,3397.8 2744.8,3391.0 C2779.8,3384.2 2821.5,3372.7 2854.8,3356.0 C2888.1,3339.3 2919.8,3315.2 2944.8,3291.0 C2969.8,3266.8 2988.1,3239.3 3004.8,3211.0 C3021.5,3182.7 3035.6,3152.7 3044.8,3121.0 C3054.0,3089.3 3059.8,3050.7 3059.8,3021.0 C3059.8,2991.3 3047.3,2956.0 3044.8,2943.0 L3044.8,2943.0 C3058.1,2942.0 3099.0,2943.3 3124.8,2937.0 C3150.6,2930.7 3176.9,2919.0 3199.8,2905.0 C3222.7,2891.0 3241.4,2873.5 3262.0,2853.0 C3282.6,2832.5 3306.8,2809.2 3323.2,2782.0 C3339.6,2754.8 3351.9,2720.8 3360.2,2690.0 C3368.5,2659.2 3371.3,2622.8 3372.8,2597.0 C3374.3,2571.2 3369.4,2560.7 3369.4,2535.0 C3369.4,2509.3 3372.2,2458.3 3372.8,2443.0 L3384.5,2418.8 C3392.3,2402.4 3422.1,2347.1 3431.1,2320.6 C3440.2,2294.1 3438.9,2283.6 3438.8,2260.0 C3438.8,2236.4 3439.8,2208.5 3430.8,2179.0 C3421.8,2149.5 3405.3,2112.8 3384.8,2083.0 C3364.3,2053.2 3333.5,2021.5 3307.8,2000.0 C3282.1,1978.5 3253.8,1963.7 3230.8,1954.0 C3207.8,1944.3 3180.0,1943.7 3169.8,1941.6 L3215.4,1941.6 C3214.9,1934.4 3217.6,1918.6 3212.5,1898.7 C3207.4,1878.8 3189.4,1834.8 3184.8,1822.0 L3164.8,1725.0 C3173.1,1720.8 3199.0,1714.2 3214.8,1700.0 C3230.6,1685.8 3249.0,1666.7 3259.8,1640.0 C3270.6,1613.3 3277.6,1575.0 3279.8,1540.0 C3282.0,1505.0 3280.6,1465.0 3272.8,1430.0 C3265.0,1395.0 3250.8,1360.0 3232.8,1330.0 C3214.8,1300.0 3190.8,1271.7 3164.8,1250.0 C3138.8,1228.3 3091.5,1208.3 3076.8,1200.0 L3074.8,1200.0 C3079.8,1191.7 3093.1,1173.3 3104.8,1150.0 C3116.5,1126.7 3136.8,1093.3 3144.8,1060.0 C3152.8,1026.7 3157.0,985.0 3152.8,950.0 C3148.6,915.0 3137.8,880.0 3119.8,850.0 C3101.8,820.0 3074.0,791.7 3044.8,770.0 C3015.6,748.3 2976.8,730.8 2944.8,720.0 C2912.8,709.2 2868.1,707.5 2852.8,705.0 L2852.8,700.0 C2854.0,681.7 2862.8,626.7 2859.8,590.0 C2856.8,553.3 2850.6,513.3 2834.8,480.0 C2819.0,446.7 2793.1,415.0 2764.8,390.0 C2736.5,365.0 2701.5,341.7 2664.8,330.0 C2628.1,318.3 2582.3,316.7 2544.8,320.0 C2507.3,323.3 2457.3,345.0 2439.8,350.0 L2439.8,350.0 C2438.6,340.0 2440.3,316.7 2432.8,290.0 C2425.3,263.3 2414.5,220.8 2394.8,190.0 C2375.1,159.2 2348.1,127.5 2314.8,105.0 C2281.5,82.5 2238.1,65.0 2194.8,55.0 C2151.5,45.0 2100.6,40.8 2054.8,45.0 C2009.0,49.2 1955.6,58.3 1919.8,80.0 C1884.0,101.7 1857.3,138.3 1839.8,175.0 C1822.3,211.7 1826.0,279.2 1814.8,300.0 C1803.6,320.8 1779.5,300.0 1772.4,300.0 Z" fill="url(#brG)" transform="translate(70,-45)"/>
<path d="M692.0,705.0 C676.7,707.5 632.0,709.2 600.0,720.0 C568.0,730.8 529.2,748.3 500.0,770.0 C470.8,791.7 443.0,820.0 425.0,850.0 C407.0,880.0 396.2,915.0 392.0,950.0 C387.8,985.0 392.0,1026.7 400.0,1060.0 C408.0,1093.3 428.3,1126.7 440.0,1150.0 C451.7,1173.3 465.0,1191.7 470.0,1200.0" fill="none" stroke="#ef9d94" stroke-width="300" opacity="0.3" stroke-linecap="butt"/><path d="M2852.8,705.0 C2868.1,707.5 2912.8,709.2 2944.8,720.0 C2976.8,730.8 3015.6,748.3 3044.8,770.0 C3074.0,791.7 3101.8,820.0 3119.8,850.0 C3137.8,880.0 3148.6,915.0 3152.8,950.0 C3157.0,985.0 3152.8,1026.7 3144.8,1060.0 C3136.8,1093.3 3116.5,1126.7 3104.8,1150.0 C3093.1,1173.3 3079.8,1191.7 3074.8,1200.0" fill="none" stroke="#ef9d94" stroke-width="300" opacity="0.3" stroke-linecap="butt"/>
<path d="M692.0,705.0 C676.7,707.5 632.0,709.2 600.0,720.0 C568.0,730.8 529.2,748.3 500.0,770.0 C470.8,791.7 443.0,820.0 425.0,850.0 C407.0,880.0 396.2,915.0 392.0,950.0 C387.8,985.0 392.0,1026.7 400.0,1060.0 C408.0,1093.3 428.3,1126.7 440.0,1150.0 C451.7,1173.3 465.0,1191.7 470.0,1200.0" fill="none" stroke="#eb8f87" stroke-width="130" opacity="0.55" stroke-linecap="butt"/><path d="M2852.8,705.0 C2868.1,707.5 2912.8,709.2 2944.8,720.0 C2976.8,730.8 3015.6,748.3 3044.8,770.0 C3074.0,791.7 3101.8,820.0 3119.8,850.0 C3137.8,880.0 3148.6,915.0 3152.8,950.0 C3157.0,985.0 3152.8,1026.7 3144.8,1060.0 C3136.8,1093.3 3116.5,1126.7 3104.8,1150.0 C3093.1,1173.3 3079.8,1191.7 3074.8,1200.0" fill="none" stroke="#eb8f87" stroke-width="130" opacity="0.55" stroke-linecap="butt"/>
<path d="M468.0,1200.0 C453.3,1208.3 406.0,1228.3 380.0,1250.0 C354.0,1271.7 330.0,1300.0 312.0,1330.0 C294.0,1360.0 279.8,1395.0 272.0,1430.0 C264.2,1465.0 262.8,1505.0 265.0,1540.0 C267.2,1575.0 274.2,1613.3 285.0,1640.0 C295.8,1666.7 314.2,1685.8 330.0,1700.0 C345.8,1714.2 366.7,1718.8 380.0,1725.0 C393.3,1731.2 405.0,1735.0 410.0,1737.0" fill="none" stroke="#ef9d94" stroke-width="300" opacity="0.3" stroke-linecap="butt"/><path d="M3076.8,1200.0 C3091.5,1208.3 3138.8,1228.3 3164.8,1250.0 C3190.8,1271.7 3214.8,1300.0 3232.8,1330.0 C3250.8,1360.0 3265.0,1395.0 3272.8,1430.0 C3280.6,1465.0 3282.0,1505.0 3279.8,1540.0 C3277.6,1575.0 3270.6,1613.3 3259.8,1640.0 C3249.0,1666.7 3230.6,1685.8 3214.8,1700.0 C3199.0,1714.2 3178.1,1718.8 3164.8,1725.0 C3151.5,1731.2 3139.8,1735.0 3134.8,1737.0" fill="none" stroke="#ef9d94" stroke-width="300" opacity="0.3" stroke-linecap="butt"/>
<path d="M468.0,1200.0 C453.3,1208.3 406.0,1228.3 380.0,1250.0 C354.0,1271.7 330.0,1300.0 312.0,1330.0 C294.0,1360.0 279.8,1395.0 272.0,1430.0 C264.2,1465.0 262.8,1505.0 265.0,1540.0 C267.2,1575.0 274.2,1613.3 285.0,1640.0 C295.8,1666.7 314.2,1685.8 330.0,1700.0 C345.8,1714.2 366.7,1718.8 380.0,1725.0 C393.3,1731.2 405.0,1735.0 410.0,1737.0" fill="none" stroke="#eb8f87" stroke-width="130" opacity="0.55" stroke-linecap="butt"/><path d="M3076.8,1200.0 C3091.5,1208.3 3138.8,1228.3 3164.8,1250.0 C3190.8,1271.7 3214.8,1300.0 3232.8,1330.0 C3250.8,1360.0 3265.0,1395.0 3272.8,1430.0 C3280.6,1465.0 3282.0,1505.0 3279.8,1540.0 C3277.6,1575.0 3270.6,1613.3 3259.8,1640.0 C3249.0,1666.7 3230.6,1685.8 3214.8,1700.0 C3199.0,1714.2 3178.1,1718.8 3164.8,1725.0 C3151.5,1731.2 3139.8,1735.0 3134.8,1737.0" fill="none" stroke="#eb8f87" stroke-width="130" opacity="0.55" stroke-linecap="butt"/>
<path d="M430.5,1943.0 C421.2,1942.8 394.4,1939.8 375.0,1941.6 C355.6,1943.4 337.0,1944.3 314.0,1954.0 C291.0,1963.7 262.7,1978.5 237.0,2000.0 C211.3,2021.5 180.5,2053.2 160.0,2083.0 C139.5,2112.8 123.0,2149.5 114.0,2179.0 C105.0,2208.5 106.0,2236.4 106.0,2260.0 C106.0,2283.6 104.7,2294.1 113.7,2320.6 C122.8,2347.1 142.3,2392.2 160.3,2418.8 C178.3,2445.4 201.2,2464.6 221.6,2480.0 C242.0,2495.4 261.3,2503.2 282.8,2511.0 C304.3,2518.8 339.5,2524.0 350.8,2526.6" fill="none" stroke="#ef9d94" stroke-width="300" opacity="0.3" stroke-linecap="butt"/><path d="M3114.3,1943.0 C3123.6,1942.8 3150.4,1939.8 3169.8,1941.6 C3189.2,1943.4 3207.8,1944.3 3230.8,1954.0 C3253.8,1963.7 3282.1,1978.5 3307.8,2000.0 C3333.5,2021.5 3364.3,2053.2 3384.8,2083.0 C3405.3,2112.8 3421.8,2149.5 3430.8,2179.0 C3439.8,2208.5 3438.8,2236.4 3438.8,2260.0 C3438.9,2283.6 3440.2,2294.1 3431.1,2320.6 C3422.1,2347.1 3402.5,2392.2 3384.5,2418.8 C3366.5,2445.4 3343.6,2464.6 3323.2,2480.0 C3302.8,2495.4 3283.5,2503.2 3262.0,2511.0 C3240.5,2518.8 3205.3,2524.0 3194.0,2526.6" fill="none" stroke="#ef9d94" stroke-width="300" opacity="0.3" stroke-linecap="butt"/>
<path d="M430.5,1943.0 C421.2,1942.8 394.4,1939.8 375.0,1941.6 C355.6,1943.4 337.0,1944.3 314.0,1954.0 C291.0,1963.7 262.7,1978.5 237.0,2000.0 C211.3,2021.5 180.5,2053.2 160.0,2083.0 C139.5,2112.8 123.0,2149.5 114.0,2179.0 C105.0,2208.5 106.0,2236.4 106.0,2260.0 C106.0,2283.6 104.7,2294.1 113.7,2320.6 C122.8,2347.1 142.3,2392.2 160.3,2418.8 C178.3,2445.4 201.2,2464.6 221.6,2480.0 C242.0,2495.4 261.3,2503.2 282.8,2511.0 C304.3,2518.8 339.5,2524.0 350.8,2526.6" fill="none" stroke="#eb8f87" stroke-width="130" opacity="0.55" stroke-linecap="butt"/><path d="M3114.3,1943.0 C3123.6,1942.8 3150.4,1939.8 3169.8,1941.6 C3189.2,1943.4 3207.8,1944.3 3230.8,1954.0 C3253.8,1963.7 3282.1,1978.5 3307.8,2000.0 C3333.5,2021.5 3364.3,2053.2 3384.8,2083.0 C3405.3,2112.8 3421.8,2149.5 3430.8,2179.0 C3439.8,2208.5 3438.8,2236.4 3438.8,2260.0 C3438.9,2283.6 3440.2,2294.1 3431.1,2320.6 C3422.1,2347.1 3402.5,2392.2 3384.5,2418.8 C3366.5,2445.4 3343.6,2464.6 3323.2,2480.0 C3302.8,2495.4 3283.5,2503.2 3262.0,2511.0 C3240.5,2518.8 3205.3,2524.0 3194.0,2526.6" fill="none" stroke="#eb8f87" stroke-width="130" opacity="0.55" stroke-linecap="butt"/>
<path d="M172.0,2443.0 C172.6,2458.3 175.4,2509.3 175.4,2535.0 C175.4,2560.7 170.5,2571.2 172.0,2597.0 C173.5,2622.8 176.3,2659.2 184.6,2690.0 C192.9,2720.8 205.2,2754.8 221.6,2782.0 C238.0,2809.2 262.2,2832.5 282.8,2853.0 C303.4,2873.5 322.1,2891.0 345.0,2905.0 C367.9,2919.0 394.2,2930.7 420.0,2937.0 C445.8,2943.3 486.7,2942.0 500.0,2943.0" fill="none" stroke="#ef9d94" stroke-width="300" opacity="0.3" stroke-linecap="butt"/><path d="M3372.8,2443.0 C3372.2,2458.3 3369.4,2509.3 3369.4,2535.0 C3369.4,2560.7 3374.3,2571.2 3372.8,2597.0 C3371.3,2622.8 3368.5,2659.2 3360.2,2690.0 C3351.9,2720.8 3339.6,2754.8 3323.2,2782.0 C3306.8,2809.2 3282.6,2832.5 3262.0,2853.0 C3241.4,2873.5 3222.7,2891.0 3199.8,2905.0 C3176.9,2919.0 3150.6,2930.7 3124.8,2937.0 C3099.0,2943.3 3058.1,2942.0 3044.8,2943.0" fill="none" stroke="#ef9d94" stroke-width="300" opacity="0.3" stroke-linecap="butt"/>
<path d="M172.0,2443.0 C172.6,2458.3 175.4,2509.3 175.4,2535.0 C175.4,2560.7 170.5,2571.2 172.0,2597.0 C173.5,2622.8 176.3,2659.2 184.6,2690.0 C192.9,2720.8 205.2,2754.8 221.6,2782.0 C238.0,2809.2 262.2,2832.5 282.8,2853.0 C303.4,2873.5 322.1,2891.0 345.0,2905.0 C367.9,2919.0 394.2,2930.7 420.0,2937.0 C445.8,2943.3 486.7,2942.0 500.0,2943.0" fill="none" stroke="#eb8f87" stroke-width="130" opacity="0.55" stroke-linecap="butt"/><path d="M3372.8,2443.0 C3372.2,2458.3 3369.4,2509.3 3369.4,2535.0 C3369.4,2560.7 3374.3,2571.2 3372.8,2597.0 C3371.3,2622.8 3368.5,2659.2 3360.2,2690.0 C3351.9,2720.8 3339.6,2754.8 3323.2,2782.0 C3306.8,2809.2 3282.6,2832.5 3262.0,2853.0 C3241.4,2873.5 3222.7,2891.0 3199.8,2905.0 C3176.9,2919.0 3150.6,2930.7 3124.8,2937.0 C3099.0,2943.3 3058.1,2942.0 3044.8,2943.0" fill="none" stroke="#eb8f87" stroke-width="130" opacity="0.55" stroke-linecap="butt"/>
<path d="M500.0,2943.0 C497.5,2956.0 485.0,2991.3 485.0,3021.0 C485.0,3050.7 490.8,3089.3 500.0,3121.0 C509.2,3152.7 523.3,3182.7 540.0,3211.0 C556.7,3239.3 575.0,3266.8 600.0,3291.0 C625.0,3315.2 656.7,3339.3 690.0,3356.0 C723.3,3372.7 765.0,3384.2 800.0,3391.0 C835.0,3397.8 875.0,3397.0 900.0,3397.0 C925.0,3397.0 941.7,3392.0 950.0,3391.0" fill="none" stroke="#ef9d94" stroke-width="300" opacity="0.3" stroke-linecap="butt"/><path d="M3044.8,2943.0 C3047.3,2956.0 3059.8,2991.3 3059.8,3021.0 C3059.8,3050.7 3054.0,3089.3 3044.8,3121.0 C3035.6,3152.7 3021.5,3182.7 3004.8,3211.0 C2988.1,3239.3 2969.8,3266.8 2944.8,3291.0 C2919.8,3315.2 2888.1,3339.3 2854.8,3356.0 C2821.5,3372.7 2779.8,3384.2 2744.8,3391.0 C2709.8,3397.8 2669.8,3397.0 2644.8,3397.0 C2619.8,3397.0 2603.1,3392.0 2594.8,3391.0" fill="none" stroke="#ef9d94" stroke-width="300" opacity="0.3" stroke-linecap="butt"/>
<path d="M500.0,2943.0 C497.5,2956.0 485.0,2991.3 485.0,3021.0 C485.0,3050.7 490.8,3089.3 500.0,3121.0 C509.2,3152.7 523.3,3182.7 540.0,3211.0 C556.7,3239.3 575.0,3266.8 600.0,3291.0 C625.0,3315.2 656.7,3339.3 690.0,3356.0 C723.3,3372.7 765.0,3384.2 800.0,3391.0 C835.0,3397.8 875.0,3397.0 900.0,3397.0 C925.0,3397.0 941.7,3392.0 950.0,3391.0" fill="none" stroke="#eb8f87" stroke-width="130" opacity="0.55" stroke-linecap="butt"/><path d="M3044.8,2943.0 C3047.3,2956.0 3059.8,2991.3 3059.8,3021.0 C3059.8,3050.7 3054.0,3089.3 3044.8,3121.0 C3035.6,3152.7 3021.5,3182.7 3004.8,3211.0 C2988.1,3239.3 2969.8,3266.8 2944.8,3291.0 C2919.8,3315.2 2888.1,3339.3 2854.8,3356.0 C2821.5,3372.7 2779.8,3384.2 2744.8,3391.0 C2709.8,3397.8 2669.8,3397.0 2644.8,3397.0 C2619.8,3397.0 2603.1,3392.0 2594.8,3391.0" fill="none" stroke="#eb8f87" stroke-width="130" opacity="0.55" stroke-linecap="butt"/>
<path d="M950.0,3391.0 C958.3,3406.0 980.0,3456.0 1000.0,3481.0 C1020.0,3506.0 1043.3,3524.3 1070.0,3541.0 C1096.7,3557.7 1128.3,3573.2 1160.0,3581.0 C1191.7,3588.8 1226.7,3591.3 1260.0,3588.0 C1293.3,3584.7 1330.0,3575.5 1360.0,3561.0 C1390.0,3546.5 1418.3,3524.3 1440.0,3501.0 C1461.7,3477.7 1478.3,3451.0 1490.0,3421.0 C1501.7,3391.0 1507.5,3351.0 1510.0,3321.0 C1512.5,3291.0 1508.3,3260.2 1505.0,3241.0 C1501.7,3221.8 1492.5,3211.8 1490.0,3206.0" fill="none" stroke="#ef9d94" stroke-width="300" opacity="0.3" stroke-linecap="butt"/><path d="M2594.8,3391.0 C2586.5,3406.0 2564.8,3456.0 2544.8,3481.0 C2524.8,3506.0 2501.5,3524.3 2474.8,3541.0 C2448.1,3557.7 2416.5,3573.2 2384.8,3581.0 C2353.1,3588.8 2318.1,3591.3 2284.8,3588.0 C2251.5,3584.7 2214.8,3575.5 2184.8,3561.0 C2154.8,3546.5 2126.5,3524.3 2104.8,3501.0 C2083.1,3477.7 2066.5,3451.0 2054.8,3421.0 C2043.1,3391.0 2037.3,3351.0 2034.8,3321.0 C2032.3,3291.0 2036.5,3260.2 2039.8,3241.0 C2043.1,3221.8 2052.3,3211.8 2054.8,3206.0" fill="none" stroke="#ef9d94" stroke-width="300" opacity="0.3" stroke-linecap="butt"/>
<path d="M950.0,3391.0 C958.3,3406.0 980.0,3456.0 1000.0,3481.0 C1020.0,3506.0 1043.3,3524.3 1070.0,3541.0 C1096.7,3557.7 1128.3,3573.2 1160.0,3581.0 C1191.7,3588.8 1226.7,3591.3 1260.0,3588.0 C1293.3,3584.7 1330.0,3575.5 1360.0,3561.0 C1390.0,3546.5 1418.3,3524.3 1440.0,3501.0 C1461.7,3477.7 1478.3,3451.0 1490.0,3421.0 C1501.7,3391.0 1507.5,3351.0 1510.0,3321.0 C1512.5,3291.0 1508.3,3260.2 1505.0,3241.0 C1501.7,3221.8 1492.5,3211.8 1490.0,3206.0" fill="none" stroke="#eb8f87" stroke-width="130" opacity="0.55" stroke-linecap="butt"/><path d="M2594.8,3391.0 C2586.5,3406.0 2564.8,3456.0 2544.8,3481.0 C2524.8,3506.0 2501.5,3524.3 2474.8,3541.0 C2448.1,3557.7 2416.5,3573.2 2384.8,3581.0 C2353.1,3588.8 2318.1,3591.3 2284.8,3588.0 C2251.5,3584.7 2214.8,3575.5 2184.8,3561.0 C2154.8,3546.5 2126.5,3524.3 2104.8,3501.0 C2083.1,3477.7 2066.5,3451.0 2054.8,3421.0 C2043.1,3391.0 2037.3,3351.0 2034.8,3321.0 C2032.3,3291.0 2036.5,3260.2 2039.8,3241.0 C2043.1,3221.8 2052.3,3211.8 2054.8,3206.0" fill="none" stroke="#eb8f87" stroke-width="130" opacity="0.55" stroke-linecap="butt"/>
<rect x="1712.4" y="300" width="120" height="2500" fill="#f9c4ba" opacity="0.45"/>
<path d="M1630,3200 L1630,3291 Q1680,3360 1772.4,3385 Q1865,3360 1915,3291 L1915,3200 Z" fill="#ef9c93"/>
</g>
<path d="M1730.0,590.0 C1729.7,658.3 1728.5,881.7 1728.0,1000.0 C1727.5,1118.3 1730.8,1231.7 1727.0,1300.0 C1723.2,1368.3 1715.8,1382.5 1705.0,1410.0 C1694.2,1437.5 1669.2,1455.8 1662.0,1465.0" fill="none" stroke="#e78d86" stroke-width="24"/><path d="M1814.8,590.0 C1815.1,658.3 1816.3,881.7 1816.8,1000.0 C1817.3,1118.3 1814.0,1231.7 1817.8,1300.0 C1821.6,1368.3 1829.0,1382.5 1839.8,1410.0 C1850.6,1437.5 1875.6,1455.8 1882.8,1465.0" fill="none" stroke="#e78d86" stroke-width="24"/>
<path d="M1295.0,610.0 C1291.7,628.3 1290.8,685.8 1275.0,720.0 C1259.2,754.2 1230.8,787.5 1200.0,815.0 C1169.2,842.5 1130.0,869.5 1090.0,885.0 C1050.0,900.5 1000.0,907.5 960.0,908.0 C920.0,908.5 881.7,899.0 850.0,888.0 C818.3,877.0 783.3,849.7 770.0,842.0 L770.0,842.0 C785.0,844.7 828.3,855.0 860.0,858.0 C891.7,861.0 925.0,863.8 960.0,860.0 C995.0,856.2 1035.0,850.0 1070.0,835.0 C1105.0,820.0 1140.8,793.3 1170.0,770.0 C1199.2,746.7 1224.2,721.7 1245.0,695.0 C1265.8,668.3 1286.7,624.2 1295.0,610.0 Z" fill="#ea968e"/><path d="M2249.8,610.0 C2253.1,628.3 2254.0,685.8 2269.8,720.0 C2285.6,754.2 2314.0,787.5 2344.8,815.0 C2375.6,842.5 2414.8,869.5 2454.8,885.0 C2494.8,900.5 2544.8,907.5 2584.8,908.0 C2624.8,908.5 2663.1,899.0 2694.8,888.0 C2726.5,877.0 2761.5,849.7 2774.8,842.0 L2774.8,842.0 C2759.8,844.7 2716.5,855.0 2684.8,858.0 C2653.1,861.0 2619.8,863.8 2584.8,860.0 C2549.8,856.2 2509.8,850.0 2474.8,835.0 C2439.8,820.0 2404.0,793.3 2374.8,770.0 C2345.6,746.7 2320.6,721.7 2299.8,695.0 C2279.0,668.3 2258.1,624.2 2249.8,610.0 Z" fill="#ea968e"/>
<path d="M1295.0,610.0 C1291.7,628.3 1290.8,685.8 1275.0,720.0 C1259.2,754.2 1230.8,787.5 1200.0,815.0 C1169.2,842.5 1130.0,869.5 1090.0,885.0 C1050.0,900.5 1000.0,907.5 960.0,908.0 C920.0,908.5 881.7,899.0 850.0,888.0 C818.3,877.0 783.3,849.7 770.0,842.0" fill="none" stroke="#e78d86" stroke-width="18"/><path d="M2249.8,610.0 C2253.1,628.3 2254.0,685.8 2269.8,720.0 C2285.6,754.2 2314.0,787.5 2344.8,815.0 C2375.6,842.5 2414.8,869.5 2454.8,885.0 C2494.8,900.5 2544.8,907.5 2584.8,908.0 C2624.8,908.5 2663.1,899.0 2694.8,888.0 C2726.5,877.0 2761.5,849.7 2774.8,842.0" fill="none" stroke="#e78d86" stroke-width="18"/>
<path d="M1300.0,625.0 C1310.8,627.5 1343.3,633.8 1365.0,640.0 C1386.7,646.2 1419.2,658.3 1430.0,662.0" fill="none" stroke="#e78d86" stroke-width="18"/><path d="M2244.8,625.0 C2234.0,627.5 2201.5,633.8 2179.8,640.0 C2158.1,646.2 2125.6,658.3 2114.8,662.0" fill="none" stroke="#e78d86" stroke-width="18"/>
<path d="M1305.0,977.0 C1315.8,973.3 1348.8,960.3 1370.0,955.0 C1391.2,949.7 1421.7,946.7 1432.0,945.0" fill="none" stroke="#e78d86" stroke-width="18"/><path d="M2239.8,977.0 C2229.0,973.3 2196.0,960.3 2174.8,955.0 C2153.6,949.7 2123.1,946.7 2112.8,945.0" fill="none" stroke="#e78d86" stroke-width="18"/>
<path d="M995.0,1000.0 C994.5,1013.3 999.2,1051.7 992.0,1080.0 C984.8,1108.3 970.3,1141.7 952.0,1170.0 C933.7,1198.3 909.0,1229.2 882.0,1250.0 C855.0,1270.8 819.5,1285.0 790.0,1295.0 C760.5,1305.0 719.2,1307.5 705.0,1310.0" fill="none" stroke="#e78d86" stroke-width="24"/><path d="M2549.8,1000.0 C2550.3,1013.3 2545.6,1051.7 2552.8,1080.0 C2560.0,1108.3 2574.5,1141.7 2592.8,1170.0 C2611.1,1198.3 2635.8,1229.2 2662.8,1250.0 C2689.8,1270.8 2725.3,1285.0 2754.8,1295.0 C2784.3,1305.0 2825.6,1307.5 2839.8,1310.0" fill="none" stroke="#e78d86" stroke-width="24"/>
<path d="M1135.0,1260.0 C1139.2,1275.0 1144.2,1318.3 1160.0,1350.0 C1175.8,1381.7 1200.0,1421.7 1230.0,1450.0 C1260.0,1478.3 1300.0,1504.2 1340.0,1520.0 C1380.0,1535.8 1430.0,1545.8 1470.0,1545.0 C1510.0,1544.2 1550.8,1527.5 1580.0,1515.0 C1609.2,1502.5 1634.2,1477.5 1645.0,1470.0 L1645.0,1470.0 C1627.5,1471.7 1577.5,1478.3 1540.0,1480.0 C1502.5,1481.7 1460.0,1486.7 1420.0,1480.0 C1380.0,1473.3 1334.2,1458.3 1300.0,1440.0 C1265.8,1421.7 1237.5,1395.0 1215.0,1370.0 C1192.5,1345.0 1178.3,1308.3 1165.0,1290.0 C1151.7,1271.7 1140.0,1265.0 1135.0,1260.0 Z" fill="#ee9f97"/><path d="M2409.8,1260.0 C2405.6,1275.0 2400.6,1318.3 2384.8,1350.0 C2369.0,1381.7 2344.8,1421.7 2314.8,1450.0 C2284.8,1478.3 2244.8,1504.2 2204.8,1520.0 C2164.8,1535.8 2114.8,1545.8 2074.8,1545.0 C2034.8,1544.2 1994.0,1527.5 1964.8,1515.0 C1935.6,1502.5 1910.6,1477.5 1899.8,1470.0 L1899.8,1470.0 C1917.3,1471.7 1967.3,1478.3 2004.8,1480.0 C2042.3,1481.7 2084.8,1486.7 2124.8,1480.0 C2164.8,1473.3 2210.6,1458.3 2244.8,1440.0 C2279.0,1421.7 2307.3,1395.0 2329.8,1370.0 C2352.3,1345.0 2366.5,1308.3 2379.8,1290.0 C2393.1,1271.7 2404.8,1265.0 2409.8,1260.0 Z" fill="#ee9f97"/>
<path d="M1135.0,1260.0 C1139.2,1275.0 1144.2,1318.3 1160.0,1350.0 C1175.8,1381.7 1200.0,1421.7 1230.0,1450.0 C1260.0,1478.3 1300.0,1504.2 1340.0,1520.0 C1380.0,1535.8 1430.0,1545.8 1470.0,1545.0 C1510.0,1544.2 1550.8,1527.5 1580.0,1515.0 C1609.2,1502.5 1634.2,1477.5 1645.0,1470.0" fill="none" stroke="#fbd6cc" stroke-width="18"/><path d="M2409.8,1260.0 C2405.6,1275.0 2400.6,1318.3 2384.8,1350.0 C2369.0,1381.7 2344.8,1421.7 2314.8,1450.0 C2284.8,1478.3 2244.8,1504.2 2204.8,1520.0 C2164.8,1535.8 2114.8,1545.8 2074.8,1545.0 C2034.8,1544.2 1994.0,1527.5 1964.8,1515.0 C1935.6,1502.5 1910.6,1477.5 1899.8,1470.0" fill="none" stroke="#fbd6cc" stroke-width="18"/>
<path d="M350.8,2526.6 C360.7,2527.2 390.6,2530.5 410.0,2530.0 C429.4,2529.5 445.0,2528.8 467.5,2523.6 C490.0,2518.3 525.9,2506.8 545.0,2498.5 C564.1,2490.2 575.8,2478.1 582.0,2474.0" fill="none" stroke="#e78d86" stroke-width="24"/><path d="M3194.0,2526.6 C3184.1,2527.2 3154.2,2530.5 3134.8,2530.0 C3115.4,2529.5 3099.8,2528.8 3077.3,2523.6 C3054.8,2518.3 3018.9,2506.8 2999.8,2498.5 C2980.7,2490.2 2969.0,2478.1 2962.8,2474.0" fill="none" stroke="#e78d86" stroke-width="24"/>
<path d="M430.5,1943.0 C436.7,1943.8 448.5,1942.4 467.5,1947.8 C486.5,1953.2 521.5,1963.2 544.6,1975.5 C567.7,1987.8 596.0,2014.0 606.3,2021.7" fill="none" stroke="#e78d86" stroke-width="24"/><path d="M3114.3,1943.0 C3108.1,1943.8 3096.3,1942.4 3077.3,1947.8 C3058.3,1953.2 3023.3,1963.2 3000.2,1975.5 C2977.1,1987.8 2948.8,2014.0 2938.5,2021.7" fill="none" stroke="#e78d86" stroke-width="24"/>
<path d="M630.0,2627.0 C641.7,2637.0 673.3,2671.2 700.0,2687.0 C726.7,2702.8 765.0,2713.7 790.0,2722.0 C815.0,2730.3 836.7,2729.5 850.0,2737.0 C863.3,2744.5 870.0,2752.0 870.0,2767.0 C870.0,2782.0 854.2,2800.3 850.0,2827.0 C845.8,2853.7 840.0,2893.7 845.0,2927.0 C850.0,2960.3 862.5,2995.3 880.0,3027.0 C897.5,3058.7 923.3,3092.0 950.0,3117.0 C976.7,3142.0 1008.3,3163.7 1040.0,3177.0 C1071.7,3190.3 1123.3,3193.7 1140.0,3197.0" fill="none" stroke="#e78d86" stroke-width="24"/><path d="M2914.8,2627.0 C2903.1,2637.0 2871.5,2671.2 2844.8,2687.0 C2818.1,2702.8 2779.8,2713.7 2754.8,2722.0 C2729.8,2730.3 2708.1,2729.5 2694.8,2737.0 C2681.5,2744.5 2674.8,2752.0 2674.8,2767.0 C2674.8,2782.0 2690.6,2800.3 2694.8,2827.0 C2699.0,2853.7 2704.8,2893.7 2699.8,2927.0 C2694.8,2960.3 2682.3,2995.3 2664.8,3027.0 C2647.3,3058.7 2621.5,3092.0 2594.8,3117.0 C2568.1,3142.0 2536.5,3163.7 2504.8,3177.0 C2473.1,3190.3 2421.5,3193.7 2404.8,3197.0" fill="none" stroke="#e78d86" stroke-width="24"/>
<path d="M1290.0,2747.0 C1300.0,2751.2 1326.7,2765.3 1350.0,2772.0 C1373.3,2778.7 1405.0,2784.5 1430.0,2787.0 C1455.0,2789.5 1478.3,2784.5 1500.0,2787.0 C1521.7,2789.5 1543.3,2796.2 1560.0,2802.0 C1576.7,2807.8 1593.3,2818.7 1600.0,2822.0" fill="none" stroke="#e78d86" stroke-width="24"/><path d="M2254.8,2747.0 C2244.8,2751.2 2218.1,2765.3 2194.8,2772.0 C2171.5,2778.7 2139.8,2784.5 2114.8,2787.0 C2089.8,2789.5 2066.5,2784.5 2044.8,2787.0 C2023.1,2789.5 2001.5,2796.2 1984.8,2802.0 C1968.1,2807.8 1951.5,2818.7 1944.8,2822.0" fill="none" stroke="#e78d86" stroke-width="24"/>
<path d="M1190.0,3017.0 C1203.3,3017.8 1245.0,3015.3 1270.0,3022.0 C1295.0,3028.7 1318.3,3041.2 1340.0,3057.0 C1361.7,3072.8 1383.3,3093.7 1400.0,3117.0 C1416.7,3140.3 1428.3,3177.3 1440.0,3197.0 C1451.7,3216.7 1465.0,3228.7 1470.0,3235.0" fill="none" stroke="#e78d86" stroke-width="24"/><path d="M2354.8,3017.0 C2341.5,3017.8 2299.8,3015.3 2274.8,3022.0 C2249.8,3028.7 2226.5,3041.2 2204.8,3057.0 C2183.1,3072.8 2161.5,3093.7 2144.8,3117.0 C2128.1,3140.3 2116.5,3177.3 2104.8,3197.0 C2093.1,3216.7 2079.8,3228.7 2074.8,3235.0" fill="none" stroke="#e78d86" stroke-width="24"/>
<path d="M1397.9,2489.6 C1395.4,2499.3 1390.2,2529.1 1383.0,2547.6 C1375.8,2566.1 1366.1,2584.2 1354.8,2600.4 C1343.4,2616.6 1329.7,2631.9 1314.8,2645.0 C1299.9,2658.0 1283.0,2669.6 1265.4,2678.8 C1247.9,2687.9 1228.7,2695.1 1209.4,2699.8 C1190.2,2704.5 1169.8,2707.0 1150.0,2707.0 C1130.2,2707.0 1109.8,2704.5 1090.6,2699.8 C1071.3,2695.1 1052.1,2687.9 1034.6,2678.8 C1017.0,2669.6 1000.1,2658.0 985.2,2645.0 C970.3,2631.9 956.6,2616.6 945.2,2600.4 C933.9,2584.2 924.2,2566.1 917.0,2547.6 C909.8,2529.1 904.6,2499.3 902.1,2489.6 L956.5,2439.5 C958.0,2446.4 961.4,2467.6 965.9,2480.9 C970.4,2494.2 976.4,2507.3 983.6,2519.4 C990.8,2531.5 999.4,2543.1 1008.9,2553.5 C1018.4,2563.9 1029.2,2573.4 1040.6,2581.6 C1052.0,2589.8 1064.6,2597.0 1077.4,2602.6 C1090.3,2608.3 1104.1,2612.7 1117.8,2615.6 C1131.6,2618.5 1145.9,2620.0 1160.0,2620.0 C1174.1,2620.0 1188.4,2618.5 1202.2,2615.6 C1215.9,2612.7 1229.7,2608.3 1242.6,2602.6 C1255.4,2597.0 1268.0,2589.8 1279.4,2581.6 C1290.8,2573.4 1301.6,2563.9 1311.1,2553.5 C1320.6,2543.1 1329.2,2531.5 1336.4,2519.4 C1343.6,2507.3 1349.6,2494.2 1354.1,2480.9 C1358.6,2467.6 1362.0,2446.4 1363.5,2439.5 Z" fill="#ef9f97"/><path d="M2146.9,2489.6 C2149.4,2499.3 2154.6,2529.1 2161.8,2547.6 C2169.0,2566.1 2178.7,2584.2 2190.0,2600.4 C2201.4,2616.6 2215.1,2631.9 2230.0,2645.0 C2244.9,2658.0 2261.8,2669.6 2279.4,2678.8 C2296.9,2687.9 2316.1,2695.1 2335.4,2699.8 C2354.6,2704.5 2375.0,2707.0 2394.8,2707.0 C2414.6,2707.0 2435.0,2704.5 2454.2,2699.8 C2473.5,2695.1 2492.7,2687.9 2510.2,2678.8 C2527.8,2669.6 2544.7,2658.0 2559.6,2645.0 C2574.5,2631.9 2588.2,2616.6 2599.6,2600.4 C2610.9,2584.2 2620.6,2566.1 2627.8,2547.6 C2635.0,2529.1 2640.2,2499.3 2642.7,2489.6 L2588.3,2439.5 C2586.8,2446.4 2583.4,2467.6 2578.9,2480.9 C2574.4,2494.2 2568.4,2507.3 2561.2,2519.4 C2554.0,2531.5 2545.4,2543.1 2535.9,2553.5 C2526.4,2563.9 2515.6,2573.4 2504.2,2581.6 C2492.8,2589.8 2480.2,2597.0 2467.4,2602.6 C2454.5,2608.3 2440.7,2612.7 2427.0,2615.6 C2413.2,2618.5 2398.9,2620.0 2384.8,2620.0 C2370.7,2620.0 2356.4,2618.5 2342.6,2615.6 C2328.9,2612.7 2315.1,2608.3 2302.2,2602.6 C2289.4,2597.0 2276.8,2589.8 2265.4,2581.6 C2254.0,2573.4 2243.2,2563.9 2233.7,2553.5 C2224.2,2543.1 2215.6,2531.5 2208.4,2519.4 C2201.2,2507.3 2195.2,2494.2 2190.7,2480.9 C2186.2,2467.6 2182.8,2446.4 2181.3,2439.5 Z" fill="#ef9f97"/>
<path d="M1384.9,2371.5 C1387.2,2381.2 1396.4,2410.1 1398.5,2429.8 C1400.7,2449.5 1400.4,2470.0 1397.9,2489.6 C1395.3,2509.3 1390.2,2529.1 1383.0,2547.6 C1375.8,2566.1 1366.1,2584.2 1354.8,2600.4 C1343.4,2616.6 1329.7,2631.9 1314.8,2645.0 C1299.9,2658.0 1283.0,2669.6 1265.4,2678.8 C1247.9,2687.9 1228.7,2695.1 1209.4,2699.8 C1190.2,2704.5 1169.8,2707.0 1150.0,2707.0 C1130.2,2707.0 1109.8,2704.5 1090.6,2699.8 C1071.3,2695.1 1052.1,2687.9 1034.6,2678.8 C1017.0,2669.6 1000.1,2658.0 985.2,2645.0 C970.3,2631.9 956.6,2616.6 945.2,2600.4 C933.9,2584.2 924.2,2566.1 917.0,2547.6 C909.8,2529.1 904.7,2509.3 902.1,2489.6 C899.6,2470.0 899.3,2449.5 901.5,2429.8 C903.6,2410.1 912.8,2381.2 915.1,2371.5" fill="none" stroke="#fbd6cc" stroke-width="16"/><path d="M2159.9,2371.5 C2157.6,2381.2 2148.4,2410.1 2146.3,2429.8 C2144.1,2449.5 2144.4,2470.0 2146.9,2489.6 C2149.5,2509.3 2154.6,2529.1 2161.8,2547.6 C2169.0,2566.1 2178.7,2584.2 2190.0,2600.4 C2201.4,2616.6 2215.1,2631.9 2230.0,2645.0 C2244.9,2658.0 2261.8,2669.6 2279.4,2678.8 C2296.9,2687.9 2316.1,2695.1 2335.4,2699.8 C2354.6,2704.5 2375.0,2707.0 2394.8,2707.0 C2414.6,2707.0 2435.0,2704.5 2454.2,2699.8 C2473.5,2695.1 2492.7,2687.9 2510.2,2678.8 C2527.8,2669.6 2544.7,2658.0 2559.6,2645.0 C2574.5,2631.9 2588.2,2616.6 2599.6,2600.4 C2610.9,2584.2 2620.6,2566.1 2627.8,2547.6 C2635.0,2529.1 2640.1,2509.3 2642.7,2489.6 C2645.2,2470.0 2645.5,2449.5 2643.3,2429.8 C2641.2,2410.1 2632.0,2381.2 2629.7,2371.5" fill="none" stroke="#fbd6cc" stroke-width="16"/>
<path d="M1607.5,2243.5 C1600.1,2246.8 1578.4,2258.3 1563.1,2263.3 C1547.8,2268.4 1531.6,2271.8 1515.6,2273.6 C1499.6,2275.4 1483.0,2275.4 1467.0,2273.9 C1450.9,2272.3 1434.7,2269.0 1419.3,2264.1 C1404.0,2259.3 1388.8,2252.7 1374.7,2244.8 C1360.7,2236.9 1347.2,2227.3 1335.1,2216.7 C1322.9,2206.1 1311.7,2193.9 1302.0,2181.0 C1292.3,2168.1 1283.8,2153.9 1277.0,2139.3 C1270.2,2124.7 1264.8,2109.1 1261.1,2093.4 C1257.5,2077.7 1255.4,2061.2 1255.1,2045.1 C1254.7,2029.0 1256.1,2012.5 1259.0,1996.7 C1262.0,1980.8 1266.7,1965.0 1272.9,1950.1 C1279.1,1935.2 1286.9,1920.6 1296.0,1907.3 C1305.1,1894.0 1315.9,1881.4 1327.5,1870.2 C1339.1,1859.1 1352.2,1848.9 1365.9,1840.4 C1379.6,1831.9 1402.3,1822.7 1409.6,1819.2" fill="none" stroke="#fbd6cc" stroke-width="14"/><path d="M1937.3,2243.5 C1944.7,2246.8 1966.4,2258.3 1981.7,2263.3 C1997.0,2268.4 2013.2,2271.8 2029.2,2273.6 C2045.2,2275.4 2061.8,2275.4 2077.8,2273.9 C2093.9,2272.3 2110.1,2269.0 2125.5,2264.1 C2140.8,2259.3 2156.0,2252.7 2170.1,2244.8 C2184.1,2236.9 2197.6,2227.3 2209.7,2216.7 C2221.9,2206.1 2233.1,2193.9 2242.8,2181.0 C2252.5,2168.1 2261.0,2153.9 2267.8,2139.3 C2274.6,2124.7 2280.0,2109.1 2283.7,2093.4 C2287.3,2077.7 2289.4,2061.2 2289.7,2045.1 C2290.1,2029.0 2288.7,2012.5 2285.8,1996.7 C2282.8,1980.8 2278.1,1965.0 2271.9,1950.1 C2265.7,1935.2 2257.9,1920.6 2248.8,1907.3 C2239.7,1894.0 2228.9,1881.4 2217.3,1870.2 C2205.7,1859.1 2192.6,1848.9 2178.9,1840.4 C2165.2,1831.9 2142.5,1822.7 2135.2,1819.2" fill="none" stroke="#fbd6cc" stroke-width="14"/>
<path d="M1730.0,590.0 C1730.0,541.7 1734.2,369.2 1730.0,300.0 C1725.8,230.8 1722.5,211.7 1705.0,175.0 C1687.5,138.3 1660.8,101.7 1625.0,80.0 C1589.2,58.3 1535.8,49.2 1490.0,45.0 C1444.2,40.8 1393.3,45.0 1350.0,55.0 C1306.7,65.0 1263.3,82.5 1230.0,105.0 C1196.7,127.5 1169.7,159.2 1150.0,190.0 C1130.3,220.8 1119.5,263.3 1112.0,290.0 C1104.5,316.7 1106.2,340.0 1105.0,350.0" fill="none" stroke="#2e3354" stroke-width="28"/><path d="M1814.8,590.0 C1814.8,541.7 1810.6,369.2 1814.8,300.0 C1819.0,230.8 1822.3,211.7 1839.8,175.0 C1857.3,138.3 1884.0,101.7 1919.8,80.0 C1955.6,58.3 2009.0,49.2 2054.8,45.0 C2100.6,40.8 2151.5,45.0 2194.8,55.0 C2238.1,65.0 2281.5,82.5 2314.8,105.0 C2348.1,127.5 2375.1,159.2 2394.8,190.0 C2414.5,220.8 2425.3,263.3 2432.8,290.0 C2440.3,316.7 2438.6,340.0 2439.8,350.0" fill="none" stroke="#2e3354" stroke-width="28"/>
<path d="M1105.0,350.0 C1087.5,345.0 1037.5,323.3 1000.0,320.0 C962.5,316.7 916.7,318.3 880.0,330.0 C843.3,341.7 808.3,365.0 780.0,390.0 C751.7,415.0 725.8,446.7 710.0,480.0 C694.2,513.3 688.0,553.3 685.0,590.0 C682.0,626.7 690.8,681.7 692.0,700.0" fill="none" stroke="#2e3354" stroke-width="28"/><path d="M2439.8,350.0 C2457.3,345.0 2507.3,323.3 2544.8,320.0 C2582.3,316.7 2628.1,318.3 2664.8,330.0 C2701.5,341.7 2736.5,365.0 2764.8,390.0 C2793.1,415.0 2819.0,446.7 2834.8,480.0 C2850.6,513.3 2856.8,553.3 2859.8,590.0 C2862.8,626.7 2854.0,681.7 2852.8,700.0" fill="none" stroke="#2e3354" stroke-width="28"/>
<path d="M692.0,705.0 C676.7,707.5 632.0,709.2 600.0,720.0 C568.0,730.8 529.2,748.3 500.0,770.0 C470.8,791.7 443.0,820.0 425.0,850.0 C407.0,880.0 396.2,915.0 392.0,950.0 C387.8,985.0 392.0,1026.7 400.0,1060.0 C408.0,1093.3 428.3,1126.7 440.0,1150.0 C451.7,1173.3 465.0,1191.7 470.0,1200.0" fill="none" stroke="#2e3354" stroke-width="28"/><path d="M2852.8,705.0 C2868.1,707.5 2912.8,709.2 2944.8,720.0 C2976.8,730.8 3015.6,748.3 3044.8,770.0 C3074.0,791.7 3101.8,820.0 3119.8,850.0 C3137.8,880.0 3148.6,915.0 3152.8,950.0 C3157.0,985.0 3152.8,1026.7 3144.8,1060.0 C3136.8,1093.3 3116.5,1126.7 3104.8,1150.0 C3093.1,1173.3 3079.8,1191.7 3074.8,1200.0" fill="none" stroke="#2e3354" stroke-width="28"/>
<path d="M468.0,1200.0 C453.3,1208.3 406.0,1228.3 380.0,1250.0 C354.0,1271.7 330.0,1300.0 312.0,1330.0 C294.0,1360.0 279.8,1395.0 272.0,1430.0 C264.2,1465.0 262.8,1505.0 265.0,1540.0 C267.2,1575.0 274.2,1613.3 285.0,1640.0 C295.8,1666.7 314.2,1685.8 330.0,1700.0 C345.8,1714.2 366.7,1718.8 380.0,1725.0 C393.3,1731.2 405.0,1735.0 410.0,1737.0" fill="none" stroke="#2e3354" stroke-width="28"/><path d="M3076.8,1200.0 C3091.5,1208.3 3138.8,1228.3 3164.8,1250.0 C3190.8,1271.7 3214.8,1300.0 3232.8,1330.0 C3250.8,1360.0 3265.0,1395.0 3272.8,1430.0 C3280.6,1465.0 3282.0,1505.0 3279.8,1540.0 C3277.6,1575.0 3270.6,1613.3 3259.8,1640.0 C3249.0,1666.7 3230.6,1685.8 3214.8,1700.0 C3199.0,1714.2 3178.1,1718.8 3164.8,1725.0 C3151.5,1731.2 3139.8,1735.0 3134.8,1737.0" fill="none" stroke="#2e3354" stroke-width="28"/>
<path d="M640.0,1662.0 C623.3,1663.7 570.0,1664.8 540.0,1672.0 C510.0,1679.2 479.7,1695.4 460.0,1705.0 C440.3,1714.6 438.4,1710.1 421.7,1729.6 C405.0,1749.1 374.9,1793.8 360.0,1822.0 C345.1,1850.2 337.4,1878.8 332.3,1898.7 C327.2,1918.6 329.9,1934.4 329.4,1941.6" fill="none" stroke="#2e3354" stroke-width="28"/><path d="M2904.8,1662.0 C2921.5,1663.7 2974.8,1664.8 3004.8,1672.0 C3034.8,1679.2 3065.1,1695.4 3084.8,1705.0 C3104.5,1714.6 3106.4,1710.1 3123.1,1729.6 C3139.8,1749.1 3169.9,1793.8 3184.8,1822.0 C3199.7,1850.2 3207.4,1878.8 3212.5,1898.7 C3217.6,1918.6 3214.9,1934.4 3215.4,1941.6" fill="none" stroke="#2e3354" stroke-width="28"/>
<path d="M430.5,1943.0 C421.2,1942.8 394.4,1939.8 375.0,1941.6 C355.6,1943.4 337.0,1944.3 314.0,1954.0 C291.0,1963.7 262.7,1978.5 237.0,2000.0 C211.3,2021.5 180.5,2053.2 160.0,2083.0 C139.5,2112.8 123.0,2149.5 114.0,2179.0 C105.0,2208.5 106.0,2236.4 106.0,2260.0 C106.0,2283.6 104.7,2294.1 113.7,2320.6 C122.8,2347.1 142.3,2392.2 160.3,2418.8 C178.3,2445.4 201.2,2464.6 221.6,2480.0 C242.0,2495.4 261.3,2503.2 282.8,2511.0 C304.3,2518.8 339.5,2524.0 350.8,2526.6" fill="none" stroke="#2e3354" stroke-width="28"/><path d="M3114.3,1943.0 C3123.6,1942.8 3150.4,1939.8 3169.8,1941.6 C3189.2,1943.4 3207.8,1944.3 3230.8,1954.0 C3253.8,1963.7 3282.1,1978.5 3307.8,2000.0 C3333.5,2021.5 3364.3,2053.2 3384.8,2083.0 C3405.3,2112.8 3421.8,2149.5 3430.8,2179.0 C3439.8,2208.5 3438.8,2236.4 3438.8,2260.0 C3438.9,2283.6 3440.2,2294.1 3431.1,2320.6 C3422.1,2347.1 3402.5,2392.2 3384.5,2418.8 C3366.5,2445.4 3343.6,2464.6 3323.2,2480.0 C3302.8,2495.4 3283.5,2503.2 3262.0,2511.0 C3240.5,2518.8 3205.3,2524.0 3194.0,2526.6" fill="none" stroke="#2e3354" stroke-width="28"/>
<path d="M172.0,2443.0 C172.6,2458.3 175.4,2509.3 175.4,2535.0 C175.4,2560.7 170.5,2571.2 172.0,2597.0 C173.5,2622.8 176.3,2659.2 184.6,2690.0 C192.9,2720.8 205.2,2754.8 221.6,2782.0 C238.0,2809.2 262.2,2832.5 282.8,2853.0 C303.4,2873.5 322.1,2891.0 345.0,2905.0 C367.9,2919.0 394.2,2930.7 420.0,2937.0 C445.8,2943.3 486.7,2942.0 500.0,2943.0" fill="none" stroke="#2e3354" stroke-width="28"/><path d="M3372.8,2443.0 C3372.2,2458.3 3369.4,2509.3 3369.4,2535.0 C3369.4,2560.7 3374.3,2571.2 3372.8,2597.0 C3371.3,2622.8 3368.5,2659.2 3360.2,2690.0 C3351.9,2720.8 3339.6,2754.8 3323.2,2782.0 C3306.8,2809.2 3282.6,2832.5 3262.0,2853.0 C3241.4,2873.5 3222.7,2891.0 3199.8,2905.0 C3176.9,2919.0 3150.6,2930.7 3124.8,2937.0 C3099.0,2943.3 3058.1,2942.0 3044.8,2943.0" fill="none" stroke="#2e3354" stroke-width="28"/>
<path d="M500.0,2943.0 C497.5,2956.0 485.0,2991.3 485.0,3021.0 C485.0,3050.7 490.8,3089.3 500.0,3121.0 C509.2,3152.7 523.3,3182.7 540.0,3211.0 C556.7,3239.3 575.0,3266.8 600.0,3291.0 C625.0,3315.2 656.7,3339.3 690.0,3356.0 C723.3,3372.7 765.0,3384.2 800.0,3391.0 C835.0,3397.8 875.0,3397.0 900.0,3397.0 C925.0,3397.0 941.7,3392.0 950.0,3391.0" fill="none" stroke="#2e3354" stroke-width="28"/><path d="M3044.8,2943.0 C3047.3,2956.0 3059.8,2991.3 3059.8,3021.0 C3059.8,3050.7 3054.0,3089.3 3044.8,3121.0 C3035.6,3152.7 3021.5,3182.7 3004.8,3211.0 C2988.1,3239.3 2969.8,3266.8 2944.8,3291.0 C2919.8,3315.2 2888.1,3339.3 2854.8,3356.0 C2821.5,3372.7 2779.8,3384.2 2744.8,3391.0 C2709.8,3397.8 2669.8,3397.0 2644.8,3397.0 C2619.8,3397.0 2603.1,3392.0 2594.8,3391.0" fill="none" stroke="#2e3354" stroke-width="28"/>
<path d="M950.0,3391.0 C958.3,3406.0 980.0,3456.0 1000.0,3481.0 C1020.0,3506.0 1043.3,3524.3 1070.0,3541.0 C1096.7,3557.7 1128.3,3573.2 1160.0,3581.0 C1191.7,3588.8 1226.7,3591.3 1260.0,3588.0 C1293.3,3584.7 1330.0,3575.5 1360.0,3561.0 C1390.0,3546.5 1418.3,3524.3 1440.0,3501.0 C1461.7,3477.7 1478.3,3451.0 1490.0,3421.0 C1501.7,3391.0 1507.5,3351.0 1510.0,3321.0 C1512.5,3291.0 1508.3,3260.2 1505.0,3241.0 C1501.7,3221.8 1492.5,3211.8 1490.0,3206.0" fill="none" stroke="#2e3354" stroke-width="28"/><path d="M2594.8,3391.0 C2586.5,3406.0 2564.8,3456.0 2544.8,3481.0 C2524.8,3506.0 2501.5,3524.3 2474.8,3541.0 C2448.1,3557.7 2416.5,3573.2 2384.8,3581.0 C2353.1,3588.8 2318.1,3591.3 2284.8,3588.0 C2251.5,3584.7 2214.8,3575.5 2184.8,3561.0 C2154.8,3546.5 2126.5,3524.3 2104.8,3501.0 C2083.1,3477.7 2066.5,3451.0 2054.8,3421.0 C2043.1,3391.0 2037.3,3351.0 2034.8,3321.0 C2032.3,3291.0 2036.5,3260.2 2039.8,3241.0 C2043.1,3221.8 2052.3,3211.8 2054.8,3206.0" fill="none" stroke="#2e3354" stroke-width="28"/>
<path d="M1605.0,2826.0 C1615.8,2833.5 1651.7,2851.8 1670.0,2871.0 C1688.3,2890.2 1704.2,2914.3 1715.0,2941.0 C1725.8,2967.7 1734.2,2999.3 1735.0,3031.0 C1735.8,3062.7 1730.8,3099.3 1720.0,3131.0 C1709.2,3162.7 1691.7,3196.0 1670.0,3221.0 C1648.3,3246.0 1615.0,3266.8 1590.0,3281.0 C1565.0,3295.2 1531.7,3301.8 1520.0,3306.0" fill="none" stroke="#2e3354" stroke-width="28"/><path d="M1939.8,2826.0 C1929.0,2833.5 1893.1,2851.8 1874.8,2871.0 C1856.5,2890.2 1840.6,2914.3 1829.8,2941.0 C1819.0,2967.7 1810.6,2999.3 1809.8,3031.0 C1809.0,3062.7 1814.0,3099.3 1824.8,3131.0 C1835.6,3162.7 1853.1,3196.0 1874.8,3221.0 C1896.5,3246.0 1929.8,3266.8 1954.8,3281.0 C1979.8,3295.2 2013.1,3301.8 2024.8,3306.0" fill="none" stroke="#2e3354" stroke-width="28"/>
</g>
<!-- ===== Conductor ===== -->
<g id="conductor">
<!-- legs / shoes / coat tails : zoom C origin (840,425) -->
<g transform="translate(840,425) scale(0.114583)" stroke-width="30" stroke-linecap="round" stroke-linejoin="round">
  <!-- coat tails fill (behind) -->
  <path d="M770,60 L650,760 L760,760 L800,300 Z" fill="#7697b2"/>
  <path d="M1400,300 L1500,770 L1650,770 L1560,330 Z" fill="#7697b2"/>
  <path d="M1600,420 L1665,760 L1610,760 L1560,470 Z" fill="#ffffff"/>
  <!-- trousers fill -->
  <path d="M790,300 L1110,300 L1085,1400 Q1075,1480 1000,1480 L800,1480 Q705,1480 705,1380 L740,760 Z" fill="#93b0ca"/>
  <path d="M1105,300 L1440,300 L1490,780 L1512,1390 Q1508,1480 1430,1480 L1250,1480 Q1160,1480 1150,1400 L1125,1300 L1105,700 Z" fill="#7999b4"/>
  <path d="M1120,420 L1150,420 L1170,1380 L1130,1380 Z" fill="#7999b4"/>
  <!-- trouser outlines -->
  <path d="M820,297 L1330,297" fill="none" stroke="#2e3354"/>
  <path d="M790,310 L765,760 L742,1390 Q745,1490 840,1490 L1030,1490 Q1120,1490 1122,1400 L1150,395 L1182,1400 Q1185,1490 1280,1490 L1470,1490 Q1560,1490 1558,1390 L1530,790" fill="none" stroke="#2e3354"/>
  <!-- shoes -->
  <path d="M545,1720 Q560,1600 660,1560 Q740,1520 780,1525 Q820,1540 860,1575 Q900,1600 950,1575 Q1000,1545 1030,1535 L1030,1720 Z" fill="#7697b2"/>
  <path d="M1190,1720 L1190,1545 Q1230,1530 1260,1545 Q1300,1590 1370,1595 Q1430,1590 1470,1555 Q1510,1530 1550,1545 Q1680,1590 1700,1720 Z" fill="#7697b2"/>
  <path d="M585,1720 Q590,1620 690,1575 Q760,1535 790,1540 Q830,1555 870,1590 Q910,1615 960,1590 Q1010,1555 1040,1540 Q1065,1545 1065,1580 L1065,1720" fill="none" stroke="#2e3354"/>
  <path d="M1232,1720 L1232,1575 Q1232,1545 1260,1540 Q1290,1560 1320,1590 Q1370,1615 1420,1590 Q1470,1550 1510,1540 Q1570,1545 1640,1590 Q1710,1640 1715,1720" fill="none" stroke="#2e3354"/>
  <path d="M1655,1640 Q1680,1680 1685,1715" fill="none" stroke="#ffffff" stroke-width="14"/>
  <!-- coat tails outline -->
  <path d="M690,775 L775,775" fill="none" stroke="#2e3354"/>
  <path d="M1490,775 L1670,775 L1600,420" fill="none" stroke="#2e3354"/>
  <!-- ground line -->
  <path d="M-318,1723 L1972,1723" fill="none" stroke="#2e3354" stroke-width="28"/>
  <path d="M2102,1723 L2412,1723" fill="none" stroke="#2e3354" stroke-width="28"/>
</g>
<!-- torso : zoom B origin (860,330) -->
<g transform="translate(860,330) scale(0.114583)" stroke-width="30" stroke-linecap="round" stroke-linejoin="round">
  <!-- shirt -->
  <path d="M770,230 L1050,230 L1230,1125 L640,1125 Z" fill="#ffffff"/>
  <!-- jacket left (viewer) body fill -->
  <path d="M740,190 Q600,200 570,330 L545,520 L320,330 L150,570 L580,930 L480,1590 L560,1590 L640,1100 L700,640 L790,260 Z" fill="#7697b2"/>
  <!-- white highlight along left lapel -->
  <path d="M735,330 L690,560 L650,860 L700,640 L760,330 Z" fill="#ffffff"/>
  <!-- jacket right body fill -->
  <path d="M1035,250 L1060,250 L1380,280 L1720,570 Q1790,650 1740,740 L1530,1080 L1310,930 L1440,1250 L1480,1590 L1300,1590 L1190,1050 L1100,560 Z" fill="#7697b2"/>
  <path d="M1310,930 L1440,1250 L1490,1590 L1440,1590 L1380,1200 Z" fill="#ffffff"/>
  <!-- triangle gap -->
  <path d="M1290,620 L1330,620 L1465,710 L1345,870 L1320,860 Z" fill="#ffffff"/>
  <path d="M1350,680 L1440,715 L1360,810 Z" fill="#dfe4ea"/>
  <!-- white elbow highlight -->
  <path d="M1735,640 Q1760,690 1725,745" fill="none" stroke="#ffffff" stroke-width="14"/>
  <!-- outlines left -->
  <path d="M740,195 Q625,215 605,330 L575,520 L350,340 L185,570 L615,935" fill="none" stroke="#2e3354"/>
  <path d="M800,260 L655,1100 L595,1590" fill="none" stroke="#2e3354"/>
  <path d="M665,585 L610,960 L515,1595 L595,1595" fill="none" stroke="#2e3354"/>
  <!-- outlines right -->
  <path d="M1060,255 L1215,1050" fill="none" stroke="#2e3354"/>
  <path d="M1260,1330 L1320,1595 L1500,1595 L1430,1260" fill="none" stroke="#2e3354"/>
  <path d="M1410,285 L1740,575 Q1820,660 1760,750 L1550,1080 L1330,930 L1465,710 L1325,615 L1345,865" fill="none" stroke="#2e3354"/>
  <!-- hand on hip -->
  <path d="M1350,965 L1480,1050 L1400,1270 Q1370,1330 1310,1300 L1290,1250 L1250,1270 L1220,1215 L1190,1200 L1215,1140 L1175,1100 Q1170,1070 1200,1060 Z" fill="#fcd08b"/>
  <path d="M1335,960 L1200,1060 Q1160,1085 1180,1115 L1225,1135 Q1240,1150 1215,1170 Q1170,1205 1200,1235 Q1215,1250 1240,1240 Q1245,1275 1275,1265 L1290,1255 Q1285,1295 1320,1300 L1335,1270 Q1330,1320 1365,1320 Q1400,1315 1410,1270 L1490,1060" fill="none" stroke="#2e3354"/>
</g>
<!-- head etc : zoom A origin (840,225) -->
<g transform="translate(840,225) scale(0.114583)" stroke-width="30" stroke-linecap="round" stroke-linejoin="round">
  <!-- face skin -->
  <path d="M1010,575 L840,700 L860,760 L845,830 L870,870 L860,900 Q900,1000 1010,1030 L1180,1060 L1180,800 L1060,560 Z" fill="#fcd08b"/>
  <!-- hair fill -->
  <path d="M1010,470 Q1100,420 1230,440 Q1400,470 1460,640 L1480,740 Q1590,760 1620,850 Q1635,930 1590,990 Q1620,1080 1570,1160 Q1500,1230 1380,1225 Q1300,1210 1260,1160 L1180,1040 Q1110,980 1100,860 Q1090,780 1050,720 Q990,640 985,560 Q985,500 1010,470 Z" fill="#a87d4b"/>
  <!-- face outline -->
  <path d="M1040,578 L875,700 Q865,715 880,735 Q905,750 895,775 L882,815 Q880,830 900,845" fill="none" stroke="#2e3354"/>
  <path d="M905,850 L990,850 L925,872 Z" fill="#2e3354" stroke="#2e3354" stroke-width="20"/>
  <path d="M900,885 Q915,960 1000,1005 Q1060,1035 1110,1040" fill="none" stroke="#2e3354"/>
  <!-- hair outline -->
  <path d="M1330,1215 Q1420,1250 1520,1215 Q1600,1170 1625,1080 Q1635,1030 1610,990 Q1660,930 1650,860 Q1620,760 1510,740 Q1490,600 1410,510 Q1330,435 1200,430 Q1100,430 1045,465 Q1010,510 1030,600 Q1050,680 1100,760 Q1130,810 1135,900 Q1140,980 1185,1040 Q1240,1110 1340,1135" fill="none" stroke="#2e3354"/>
  <path d="M1490,1100 Q1580,1085 1625,1040" fill="none" stroke="#2e3354"/>
  <!-- bow tie -->
  <path d="M928,1045 L1030,1095 L928,1150 Z M1202,1040 L1100,1095 L1202,1150 Z" fill="#e8837f"/>
  <path d="M915,1010 L1215,1180 L1215,1005 L915,1185 Z" fill="none" stroke="#2e3354"/>
  <!-- raised hand skin -->
  <path d="M240,1085 L165,1110 L125,1155 L150,1190 L110,1225 L135,1265 L370,1395 L515,1275 L440,1100 L400,1075 L365,1090 L335,1180 L330,1250 L290,1250 L275,1090 Z" fill="#fcd08b"/>
  <!-- baton -->
  <path d="M200,440 L270,432 L355,1245 L310,1250 Z" fill="#ffffff" stroke="#2e3354"/>
  <path d="M226,458 L256,455 L270,620 L243,623 Z" fill="#e8837f"/>
  <!-- hand outlines -->
  <path d="M262,1078 Q200,1075 182,1112 Q140,1122 148,1160 Q155,1182 178,1182 Q130,1200 136,1232 Q142,1256 172,1256 L378,1386" fill="none" stroke="#2e3354"/>
  <path d="M212,1122 Q242,1135 236,1162" fill="none" stroke="#2e3354"/>
  <path d="M178,1182 Q200,1186 206,1204" fill="none" stroke="#2e3354"/>
  <path d="M335,1185 Q345,1110 372,1085 Q402,1062 432,1098 L500,1258" fill="none" stroke="#2e3354"/>
  <path d="M300,1248 L332,1256 L372,1232 L395,1170" fill="none" stroke="#2e3354"/>
  <!-- sparkles -->
  <path d="M573,165 Q600,350 810,395 Q600,440 573,630 Q546,440 345,395 Q546,350 573,165 Z" fill="none" stroke="#2e3354"/>
  <path d="M1012,105 Q1030,225 1168,255 Q1030,285 1012,405 Q994,285 862,255 Q994,225 1012,105 Z" fill="none" stroke="#2e3354"/>
</g>
</g>
<!-- ===== Sensory icons ===== -->
<g id="senses">
<!-- eye + ear : zoom origin (180,350) scale 8 -->
<g transform="translate(180,350) scale(0.125)" stroke-width="35" stroke-linecap="round" stroke-linejoin="round">
  <path d="M105,465 C260,170 720,170 875,465 C720,765 260,765 105,465 Z" fill="#ffffff" stroke="#2e3354"/>
  <circle cx="485" cy="460" r="158" fill="#6d8ba5" stroke="#2e3354"/>
  <circle cx="485" cy="460" r="73" fill="#7fa3bc" stroke="#2e3354"/>
  <!-- ear fill -->
  <path d="M1185,330 Q1200,170 1330,100 Q1480,40 1620,120 Q1720,200 1690,400 Q1660,480 1590,540 Q1510,600 1510,700 Q1480,810 1380,830 Q1250,830 1185,700 Z" fill="#fdd5ca"/>
  <!-- ear outline -->
  <path d="M1230.0,325.0 C1233.3,304.2 1231.7,236.7 1250.0,200.0 C1268.3,163.3 1301.7,126.3 1340.0,105.0 C1378.3,83.7 1432.5,68.7 1480.0,72.0 C1527.5,75.3 1586.3,92.0 1625.0,125.0 C1663.7,158.0 1698.7,220.8 1712.0,270.0 C1725.3,319.2 1720.3,377.5 1705.0,420.0 C1689.7,462.5 1646.7,495.0 1620.0,525.0 C1593.3,555.0 1559.2,570.8 1545.0,600.0 C1530.8,629.2 1542.5,668.3 1535.0,700.0 C1527.5,731.7 1522.5,765.3 1500.0,790.0 C1477.5,814.7 1435.0,844.7 1400.0,848.0 C1365.0,851.3 1318.0,835.5 1290.0,810.0 C1262.0,784.5 1241.7,714.2 1232.0,695.0" fill="none" stroke="#2e3354"/>
  <path d="M1650,325 Q1640,210 1560,165 Q1460,120 1370,175 Q1290,240 1305,330 Q1330,400 1345,440 Q1350,490 1310,530 Q1280,580 1315,630 Q1360,690 1440,665 Q1500,640 1500,575" fill="none" stroke="#2e3354"/>
  <path d="M1530,395 Q1580,290 1530,200 Q1510,170 1480,160" fill="none" stroke="#2e3354"/>
</g>
<!-- nose + hand : zoom origin (150,455) scale 9.143 -->
<g transform="translate(150,455) scale(0.109375)" stroke-width="40" stroke-linecap="round" stroke-linejoin="round">
  <!-- nose fill -->
  <path d="M300,260 Q320,150 440,130 Q580,130 590,260 L640,700 Q800,740 820,900 Q810,1060 640,1090 Q560,1110 480,1105 Q380,1110 300,1090 Q90,1080 80,900 Q90,740 260,700 Z" fill="#fdd5ca"/>
  <!-- nose outline -->
  <path d="M640,400 L620,250 Q590,140 480,138 Q370,140 340,260 L300,715 Q120,750 120,900 Q125,1060 290,1095 Q340,1100 380,1078" fill="none" stroke="#2e3354"/>
  <path d="M655,510 L672,700 Q850,750 850,900 Q845,1060 680,1095 Q630,1100 590,1078" fill="none" stroke="#2e3354"/>
  <path d="M235,1015 Q300,1000 350,1045 Q420,1110 480,1110 Q540,1110 610,1045 Q670,1000 740,1020" fill="none" stroke="#2e3354"/>
  <!-- hand fill -->
  <path d="M1210,1720 L1210,1490 L965,1130 Q940,1050 1010,1005 Q1080,985 1130,1040 L1130,820 Q1135,745 1210,745 Q1270,745 1285,800 L1285,680 Q1295,610 1365,610 Q1435,610 1445,680 L1445,780 Q1470,725 1525,725 Q1595,730 1600,800 L1605,890 Q1630,840 1680,840 Q1750,850 1750,920 L1750,1330 Q1740,1440 1665,1500 L1665,1720 Z" fill="#fdd5ca"/>
  <!-- hand outline -->
  <path d="M1242,1720 L1242,1490 L1000,1130 Q960,1060 1020,1015 Q1090,985 1140,1040 L1300,1275" fill="none" stroke="#2e3354"/>
  <path d="M1165,1060 L1165,820 Q1170,745 1240,745 Q1312,745 1318,820 L1318,1120" fill="none" stroke="#2e3354"/>
  <path d="M1318,820 L1318,680 Q1325,610 1397,610 Q1468,610 1475,680 L1475,1095" fill="none" stroke="#2e3354"/>
  <path d="M1475,790 Q1485,725 1555,725 Q1625,730 1632,800 L1632,1120" fill="none" stroke="#2e3354"/>
  <path d="M1632,905 Q1645,840 1710,840 Q1780,845 1782,915 L1782,1330 Q1775,1440 1697,1500 L1697,1720" fill="none" stroke="#2e3354"/>
</g>
<!-- tongue : zoom origin (335,470) scale 14.77 -->
<g transform="translate(335,470) scale(0.0677083)" stroke-width="62" stroke-linecap="round" stroke-linejoin="round">
  <!-- lips fill -->
  <path d="M215,505 Q380,290 600,235 L760,225 Q880,250 955,290 Q1070,220 1250,230 Q1480,280 1640,505 Q1500,740 1290,850 L570,850 Q350,740 215,505 Z" fill="#ea9085"/>
  <!-- white gap on right lower lip -->
  <path d="M1640,505 Q1520,720 1345,830 L1345,760 Q1500,660 1600,505 Z" fill="#ffffff"/>
  <!-- tongue fill -->
  <path d="M575,470 L1295,470 L1295,1040 Q1260,1320 935,1320 Q610,1320 575,1040 Z" fill="#fcaca4"/>
  <!-- lips outline -->
  <path d="M600,240 Q400,320 265,510 Q400,740 590,855" fill="none" stroke="#2e3354"/>
  <path d="M765,225 Q870,240 955,295 Q1060,220 1230,225 Q1480,270 1670,505 Q1540,730 1345,850" fill="none" stroke="#2e3354"/>
  <path d="M465,470 L1395,470" fill="none" stroke="#2e3354"/>
  <path d="M605,470 L605,1050 Q640,1345 965,1345 Q1290,1345 1325,1050 L1325,470" fill="none" stroke="#2e3354"/>
  <path d="M965,470 L965,985" fill="none" stroke="#2e3354"/>
</g>
</g>
<use href="#senses" x="1314.6" y="0"/>
<!-- ===== Inner eye ===== -->
<g transform="translate(152,1117) scale(0.15625)" stroke-width="22" stroke-linecap="round" stroke-linejoin="round">
  <path d="M185,745 A970,970 0 0 1 1885,950 L960,955 Z" fill="#7b9bb7"/>
  <path d="M205,1190 A945,945 0 0 0 1860,1000 L960,955 Z" fill="#7b9bb7"/>
  <path d="M45,955 A1085,1085 0 0 1 1885,955 A1080,1080 0 0 1 45,955 Z" fill="#ffffff" stroke="#2e3354"/>
  <circle cx="950" cy="965" r="392" fill="#86a5c2"/>
  <path d="M950,965 L936,573 A392,392 0 0 1 1271,740 Z" fill="#8eacc9"/>
  <path d="M950,965 L1271,740 A392,392 0 0 1 1341,999 Z" fill="#7f9fbc"/>
  <path d="M950,965 L1341,999 A392,392 0 0 1 1212,1256 Z" fill="#8eacc9"/>
  <path d="M950,965 L1212,1256 A392,392 0 0 1 936,1357 Z" fill="#7f9fbc"/>
  <path d="M950,965 L936,1357 A392,392 0 0 1 673,1242 Z" fill="#8eacc9"/>
  <path d="M950,965 L673,1242 A392,392 0 0 1 558,951 Z" fill="#7f9fbc"/>
  <path d="M950,965 L558,951 A392,392 0 0 1 641,724 Z" fill="#8eacc9"/>
  <path d="M950,965 L641,724 A392,392 0 0 1 936,573 Z" fill="#7f9fbc"/>
  <circle cx="967" cy="962" r="383" fill="none" stroke="#2e3354"/>
  <path d="M1235,705 Q1320,800 1335,930" fill="none" stroke="#ffffff" stroke-width="9"/>
  <path d="M1338,1010 Q1330,1140 1250,1240" fill="none" stroke="#ffffff" stroke-width="9"/>
  <circle cx="955" cy="962" r="182" fill="#6e8dab"/>
  <circle cx="948" cy="965" r="150" fill="#4f708b"/>
  <circle cx="965" cy="960" r="176" fill="none" stroke="#2e3354"/>
  <circle cx="975" cy="962" r="58" fill="#ffffff"/>
  <circle cx="1112" cy="792" r="130" fill="#ffffff"/>
  <path d="M348,185 Q368,320 512,352 Q368,384 348,520 Q328,384 185,352 Q328,320 348,185 Z" fill="none" stroke="#2e3354"/>
  <path d="M672,140 Q686,225 780,245 Q686,265 672,355 Q658,265 565,245 Q658,225 672,140 Z" fill="none" stroke="#2e3354"/>
</g>
<!-- ===== Inner voice ===== -->
<defs>
<linearGradient id="earG" x1="0" y1="0" x2="1" y2="0">
<stop offset="0" stop-color="#fdd3c8"/><stop offset="0.55" stop-color="#fdd9cf"/><stop offset="1" stop-color="#feeee9"/>
</linearGradient>
<radialGradient id="earS" cx="0.5" cy="0.5" r="0.5">
<stop offset="0" stop-color="#f4aa9c" stop-opacity="0.9"/><stop offset="1" stop-color="#f9c5b9" stop-opacity="0"/>
</radialGradient>
</defs>
<g transform="translate(1460,1117) scale(0.1666667)" stroke-width="22" stroke-linecap="round" stroke-linejoin="round">
<path d="M765.0,800.0 C769.2,698.3 769.2,687.5 790.0,640.0 C810.8,592.5 855.0,555.0 890.0,515.0 C925.0,475.0 956.7,435.8 1000.0,400.0 C1043.3,364.2 1091.7,329.2 1150.0,300.0 C1208.3,270.8 1281.7,230.8 1350.0,225.0 C1418.3,219.2 1498.3,230.8 1560.0,265.0 C1621.7,299.2 1680.0,357.5 1720.0,430.0 C1760.0,502.5 1788.3,613.3 1800.0,700.0 C1811.7,786.7 1806.7,866.7 1790.0,950.0 C1773.3,1033.3 1741.7,1118.3 1700.0,1200.0 C1658.3,1281.7 1606.7,1365.0 1540.0,1440.0 C1473.3,1515.0 1365.0,1605.0 1300.0,1650.0 C1235.0,1695.0 1200.0,1703.3 1150.0,1710.0 C1100.0,1716.7 1046.7,1708.3 1000.0,1690.0 C953.3,1671.7 905.0,1640.0 870.0,1600.0 C835.0,1560.0 807.5,1508.3 790.0,1450.0 C772.5,1391.7 769.2,1358.3 765.0,1250.0 C760.8,1141.7 760.8,901.7 765.0,800.0 Z" fill="url(#earG)"/>
<ellipse cx="1300" cy="880" rx="140" ry="230" fill="url(#earS)" transform="rotate(-40 1300 880)"/>
<path d="M1190.0,400.0 C1215.0,378.7 1256.7,368.7 1300.0,372.0 C1343.3,375.3 1403.3,390.3 1450.0,420.0 C1496.7,449.7 1548.3,495.0 1580.0,550.0 C1611.7,605.0 1628.3,683.3 1640.0,750.0 C1651.7,816.7 1658.3,890.0 1650.0,950.0 C1641.7,1010.0 1618.3,1058.3 1590.0,1110.0 C1561.7,1161.7 1528.3,1221.7 1480.0,1260.0 C1431.7,1298.3 1348.3,1320.8 1300.0,1340.0 C1251.7,1359.2 1217.5,1374.2 1190.0,1375.0 C1162.5,1375.8 1145.0,1358.3 1135.0,1345.0 C1125.0,1331.7 1119.2,1310.8 1130.0,1295.0 C1140.8,1279.2 1171.7,1268.3 1200.0,1250.0 C1228.3,1231.7 1266.7,1215.0 1300.0,1185.0 C1333.3,1155.0 1376.7,1109.2 1400.0,1070.0 C1423.3,1030.8 1436.7,986.7 1440.0,950.0 C1443.3,913.3 1435.0,880.8 1420.0,850.0 C1405.0,819.2 1378.3,789.2 1350.0,765.0 C1321.7,740.8 1279.2,729.2 1250.0,705.0 C1220.8,680.8 1191.7,654.2 1175.0,620.0 C1158.3,585.8 1147.5,536.7 1150.0,500.0 C1152.5,463.3 1165.0,421.3 1190.0,400.0 Z" fill="#da7a70"/>
<path d="M950.0,790.0 C954.2,774.2 984.2,765.0 1000.0,765.0 C1015.8,765.0 1031.7,775.8 1045.0,790.0 C1058.3,804.2 1071.7,830.8 1080.0,850.0 C1088.3,869.2 1087.5,889.2 1095.0,905.0 C1102.5,920.8 1110.8,933.3 1125.0,945.0 C1139.2,956.7 1168.3,957.5 1180.0,975.0 C1191.7,992.5 1200.0,1025.0 1195.0,1050.0 C1190.0,1075.0 1170.8,1100.0 1150.0,1125.0 C1129.2,1150.0 1097.5,1180.8 1070.0,1200.0 C1042.5,1219.2 1012.5,1235.0 985.0,1240.0 C957.5,1245.0 923.3,1241.7 905.0,1230.0 C886.7,1218.3 877.5,1188.3 875.0,1170.0 C872.5,1151.7 879.2,1135.0 890.0,1120.0 C900.8,1105.0 924.2,1098.3 940.0,1080.0 C955.8,1061.7 976.7,1035.0 985.0,1010.0 C993.3,985.0 991.7,955.0 990.0,930.0 C988.3,905.0 981.7,883.3 975.0,860.0 C968.3,836.7 945.8,805.8 950.0,790.0 Z" fill="#da7a70"/>
<path d="M985.0,458.0 C1004.2,437.5 1055.8,369.7 1100.0,335.0 C1144.2,300.3 1200.0,268.8 1250.0,250.0 C1300.0,231.2 1348.3,220.0 1400.0,222.0 C1451.7,224.0 1511.7,233.2 1560.0,262.0 C1608.3,290.8 1654.2,338.7 1690.0,395.0 C1725.8,451.3 1755.8,535.8 1775.0,600.0 C1794.2,664.2 1805.0,715.8 1805.0,780.0 C1805.0,844.2 1794.2,915.0 1775.0,985.0 C1755.8,1055.0 1725.8,1130.8 1690.0,1200.0 C1654.2,1269.2 1608.3,1340.8 1560.0,1400.0 C1511.7,1459.2 1451.7,1511.7 1400.0,1555.0 C1348.3,1598.3 1296.7,1635.0 1250.0,1660.0 C1203.3,1685.0 1161.7,1700.0 1120.0,1705.0 C1078.3,1710.0 1036.7,1703.3 1000.0,1690.0 C963.3,1676.7 924.2,1651.7 900.0,1625.0 C875.8,1598.3 862.5,1545.8 855.0,1530.0" fill="none" stroke="#2e3354"/>
<path d="M1210.0,780.0 C1202.5,758.3 1176.7,693.3 1165.0,650.0 C1153.3,606.7 1140.0,556.7 1140.0,520.0 C1140.0,483.3 1148.3,452.5 1165.0,430.0 C1181.7,407.5 1210.8,394.2 1240.0,385.0 C1269.2,375.8 1304.2,368.3 1340.0,375.0 C1375.8,381.7 1418.3,394.2 1455.0,425.0 C1491.7,455.8 1535.5,505.8 1560.0,560.0 C1584.5,614.2 1596.2,685.0 1602.0,750.0 C1607.8,815.0 1607.0,891.7 1595.0,950.0 C1583.0,1008.3 1553.3,1055.0 1530.0,1100.0 C1506.7,1145.0 1480.3,1187.5 1455.0,1220.0 C1429.7,1252.5 1390.8,1282.5 1378.0,1295.0" fill="none" stroke="#2e3354"/>
<path d="M1205.0,432.0 C1218.3,430.8 1260.0,422.5 1285.0,425.0 C1310.0,427.5 1343.3,443.3 1355.0,447.0" fill="none" stroke="#2e3354"/>
<path d="M1160.0,640.0 C1175.0,650.8 1218.3,684.2 1250.0,705.0 C1281.7,725.8 1321.7,740.8 1350.0,765.0 C1378.3,789.2 1404.2,819.2 1420.0,850.0 C1435.8,880.8 1444.2,915.0 1445.0,950.0 C1445.8,985.0 1437.5,1030.0 1425.0,1060.0 C1412.5,1090.0 1390.8,1109.2 1370.0,1130.0 C1349.2,1150.8 1311.7,1175.8 1300.0,1185.0" fill="none" stroke="#2e3354"/>
<path d="M935.0,1225.0 C943.3,1228.3 964.2,1246.7 985.0,1245.0 C1005.8,1243.3 1035.8,1229.2 1060.0,1215.0 C1084.2,1200.8 1106.7,1178.3 1130.0,1160.0 C1153.3,1141.7 1175.0,1118.7 1200.0,1105.0 C1225.0,1091.3 1253.3,1084.2 1280.0,1078.0 C1306.7,1071.8 1338.3,1069.0 1360.0,1068.0 C1381.7,1067.0 1401.7,1071.3 1410.0,1072.0" fill="none" stroke="#2e3354"/>
<path d="M905.0,770.0 C913.3,781.7 940.8,815.0 955.0,840.0 C969.2,865.0 983.0,894.2 990.0,920.0 C997.0,945.8 1000.3,971.7 997.0,995.0 C993.7,1018.3 980.3,1040.8 970.0,1060.0 C959.7,1079.2 940.8,1101.7 935.0,1110.0" fill="none" stroke="#2e3354"/>
<path d="M940.0,790.0 C947.5,785.0 969.7,763.3 985.0,760.0 C1000.3,756.7 1017.8,761.3 1032.0,770.0 C1046.2,778.7 1060.3,795.0 1070.0,812.0 C1079.7,829.0 1084.5,854.8 1090.0,872.0 C1095.5,889.2 1095.5,903.3 1103.0,915.0 C1110.5,926.7 1123.0,935.0 1135.0,942.0 C1147.0,949.0 1168.3,954.5 1175.0,957.0" fill="none" stroke="#2e3354"/>
  <path d="M130,485 L700,485 Q790,485 790,580 L790,790 L860,1125 L610,1035 L130,1035 Q45,1035 45,945 L45,575 Q45,485 130,485 Z" fill="#ffffff" stroke="#2e3354"/>
  <rect x="245" y="578" width="340" height="83" rx="41" fill="#c5dcef"/>
  <rect x="158" y="720" width="514" height="83" rx="41" fill="#8dadc9"/>
  <rect x="245" y="862" width="340" height="83" rx="41" fill="#c5dcef"/>
  <path d="M693,100 Q712,228 855,258 Q712,288 693,415 Q674,288 535,258 Q674,228 693,100 Z" fill="#ffffff" stroke="#2e3354"/>
  <path d="M995,58 Q1008,142 1100,160 Q1008,178 995,265 Q982,178 890,160 Q982,142 995,58 Z" fill="#ffffff" stroke="#2e3354"/>
</g>
<!-- ===== Long-term memory ===== -->
<g transform="translate(610,1670) scale(0.3645833)">
<path d="M240.0,75.0 C173.3,76.7 150.8,86.7 120.0,105.0 C89.2,123.3 61.7,157.5 55.0,185.0 C48.3,212.5 55.8,239.2 80.0,270.0 C104.2,300.8 146.7,340.8 200.0,370.0 C253.3,399.2 325.0,424.2 400.0,445.0 C475.0,465.8 556.7,483.3 650.0,495.0 C743.3,506.7 856.7,515.0 960.0,515.0 C1063.3,515.0 1176.7,506.7 1270.0,495.0 C1363.3,483.3 1445.0,465.8 1520.0,445.0 C1595.0,424.2 1668.3,399.2 1720.0,370.0 C1771.7,340.8 1807.5,300.8 1830.0,270.0 C1852.5,239.2 1860.0,212.5 1855.0,185.0 C1850.0,157.5 1827.5,123.3 1800.0,105.0 C1772.5,86.7 1756.7,76.7 1690.0,75.0 C1623.3,73.3 1521.7,88.8 1400.0,95.0 C1278.3,101.2 1106.7,112.0 960.0,112.0 C813.3,112.0 640.0,101.2 520.0,95.0 C400.0,88.8 306.7,73.3 240.0,75.0 Z" fill="#7494b0" transform="translate(-5,2)"/>
<path d="M400.0,122.0 C343.3,122.3 308.3,136.2 280.0,150.0 C251.7,163.8 232.5,181.7 230.0,205.0 C227.5,228.3 233.3,260.8 265.0,290.0 C296.7,319.2 355.8,355.0 420.0,380.0 C484.2,405.0 560.0,425.3 650.0,440.0 C740.0,454.7 856.7,468.0 960.0,468.0 C1063.3,468.0 1180.0,454.7 1270.0,440.0 C1360.0,425.3 1435.8,405.0 1500.0,380.0 C1564.2,355.0 1623.3,319.2 1655.0,290.0 C1686.7,260.8 1692.5,228.3 1690.0,205.0 C1687.5,181.7 1668.3,163.8 1640.0,150.0 C1611.7,136.2 1576.7,122.3 1520.0,122.0 C1463.3,121.7 1393.3,141.7 1300.0,148.0 C1206.7,154.3 1073.3,160.0 960.0,160.0 C846.7,160.0 713.3,154.3 620.0,148.0 C526.7,141.7 456.7,121.7 400.0,122.0 Z" fill="#4f6f88"/>
<path d="M240.0,75.0 C173.3,76.7 150.8,86.7 120.0,105.0 C89.2,123.3 61.7,157.5 55.0,185.0 C48.3,212.5 55.8,239.2 80.0,270.0 C104.2,300.8 146.7,340.8 200.0,370.0 C253.3,399.2 325.0,424.2 400.0,445.0 C475.0,465.8 556.7,483.3 650.0,495.0 C743.3,506.7 856.7,515.0 960.0,515.0 C1063.3,515.0 1176.7,506.7 1270.0,495.0 C1363.3,483.3 1445.0,465.8 1520.0,445.0 C1595.0,424.2 1668.3,399.2 1720.0,370.0 C1771.7,340.8 1807.5,300.8 1830.0,270.0 C1852.5,239.2 1860.0,212.5 1855.0,185.0 C1850.0,157.5 1827.5,123.3 1800.0,105.0 C1772.5,86.7 1756.7,76.7 1690.0,75.0 C1623.3,73.3 1521.7,88.8 1400.0,95.0 C1278.3,101.2 1106.7,112.0 960.0,112.0 C813.3,112.0 640.0,101.2 520.0,95.0 C400.0,88.8 306.7,73.3 240.0,75.0 Z" fill="none" stroke="#2e3354" stroke-width="8.5" stroke-dasharray="22 12" stroke-linecap="butt"/>
</g>
<g>
<text x="151.00" y="706.80" font-size="33.6" stroke-width="2.8" fill="#33375a" stroke="#33375a" stroke-linejoin="miter" stroke-miterlimit="3" textLength="172.50" lengthAdjust="spacingAndGlyphs">SENSORY</text>
<text x="334.00" y="706.80" font-size="33.6" stroke-width="2.8" fill="#33375a" stroke="#33375a" stroke-linejoin="miter" stroke-miterlimit="3" textLength="120.49" lengthAdjust="spacingAndGlyphs">INPUT</text>
<text x="1466.00" y="706.80" font-size="33.6" stroke-width="2.8" fill="#33375a" stroke="#33375a" stroke-linejoin="miter" stroke-miterlimit="3" textLength="171.50" lengthAdjust="spacingAndGlyphs">SENSORY</text>
<text x="1648.00" y="706.80" font-size="33.6" stroke-width="2.8" fill="#33375a" stroke="#33375a" stroke-linejoin="miter" stroke-miterlimit="3" textLength="120.50" lengthAdjust="spacingAndGlyphs">INPUT</text>
<text x="745.50" y="706.90" font-size="33.6" stroke-width="2.8" fill="#33375a" stroke="#33375a" stroke-linejoin="miter" stroke-miterlimit="3" textLength="178.52" lengthAdjust="spacingAndGlyphs">CENTRAL</text>
<text x="935.50" y="706.90" font-size="33.6" stroke-width="2.8" fill="#33375a" stroke="#33375a" stroke-linejoin="miter" stroke-miterlimit="3" textLength="218.99" lengthAdjust="spacingAndGlyphs">EXECUTIVE</text>
<text x="1164.50" y="709.90" font-size="38" stroke-width="1.0" fill="#33375a" stroke="#33375a" stroke-linejoin="miter" stroke-miterlimit="3" textLength="8.99" lengthAdjust="spacingAndGlyphs">/</text>
<text x="703.50" y="752.30" font-size="33.6" stroke-width="2.8" fill="#33375a" stroke="#33375a" stroke-linejoin="miter" stroke-miterlimit="3" textLength="237.00" lengthAdjust="spacingAndGlyphs">CONDUCTOR</text>
<text x="952.50" y="752.30" font-size="33.6" stroke-width="2.8" fill="#33375a" stroke="#33375a" stroke-linejoin="miter" stroke-miterlimit="3" textLength="40.03" lengthAdjust="spacingAndGlyphs">OF</text>
<text x="1011.00" y="752.30" font-size="33.6" stroke-width="2.8" fill="#33375a" stroke="#33375a" stroke-linejoin="miter" stroke-miterlimit="3" textLength="72.50" lengthAdjust="spacingAndGlyphs">THE</text>
<text x="1097.00" y="752.30" font-size="33.6" stroke-width="2.8" fill="#33375a" stroke="#33375a" stroke-linejoin="miter" stroke-miterlimit="3" textLength="117.49" lengthAdjust="spacingAndGlyphs">BRAIN</text>
<text x="203.00" y="1472.60" font-size="33.6" stroke-width="2.8" fill="#33375a" stroke="#33375a" stroke-linejoin="miter" stroke-miterlimit="3" textLength="118.00" lengthAdjust="spacingAndGlyphs">INNER</text>
<text x="333.50" y="1472.60" font-size="33.6" stroke-width="2.8" fill="#33375a" stroke="#33375a" stroke-linejoin="miter" stroke-miterlimit="3" textLength="70.50" lengthAdjust="spacingAndGlyphs">EYE</text>
<text x="1496.00" y="1472.60" font-size="33.6" stroke-width="2.8" fill="#33375a" stroke="#33375a" stroke-linejoin="miter" stroke-miterlimit="3" textLength="117.99" lengthAdjust="spacingAndGlyphs">INNER</text>
<text x="1625.00" y="1472.60" font-size="33.6" stroke-width="2.8" fill="#33375a" stroke="#33375a" stroke-linejoin="miter" stroke-miterlimit="3" textLength="114.00" lengthAdjust="spacingAndGlyphs">VOICE</text>
<text x="807.50" y="1260.90" font-size="46.7" stroke-width="3.4" fill="#33375a" stroke="#33375a" stroke-linejoin="miter" stroke-miterlimit="3" textLength="305.02" lengthAdjust="spacingAndGlyphs">CONSCIOUS</text>
<text x="801.50" y="1324.30" font-size="46.7" stroke-width="3.4" fill="#33375a" stroke="#33375a" stroke-linejoin="miter" stroke-miterlimit="3" textLength="318.50" lengthAdjust="spacingAndGlyphs">AWARENESS</text>
<text x="755.50" y="1781.80" font-size="35.4" stroke-width="2.4" fill="#ffffff" stroke="#ffffff" stroke-linejoin="miter" stroke-miterlimit="3" textLength="226.00" lengthAdjust="spacingAndGlyphs">LONG-TERM</text>
<text x="994.50" y="1781.80" font-size="35.4" stroke-width="2.4" fill="#ffffff" stroke="#ffffff" stroke-linejoin="miter" stroke-miterlimit="3" textLength="167.00" lengthAdjust="spacingAndGlyphs">MEMORY</text>
</g>

</svg>
</body></html>
